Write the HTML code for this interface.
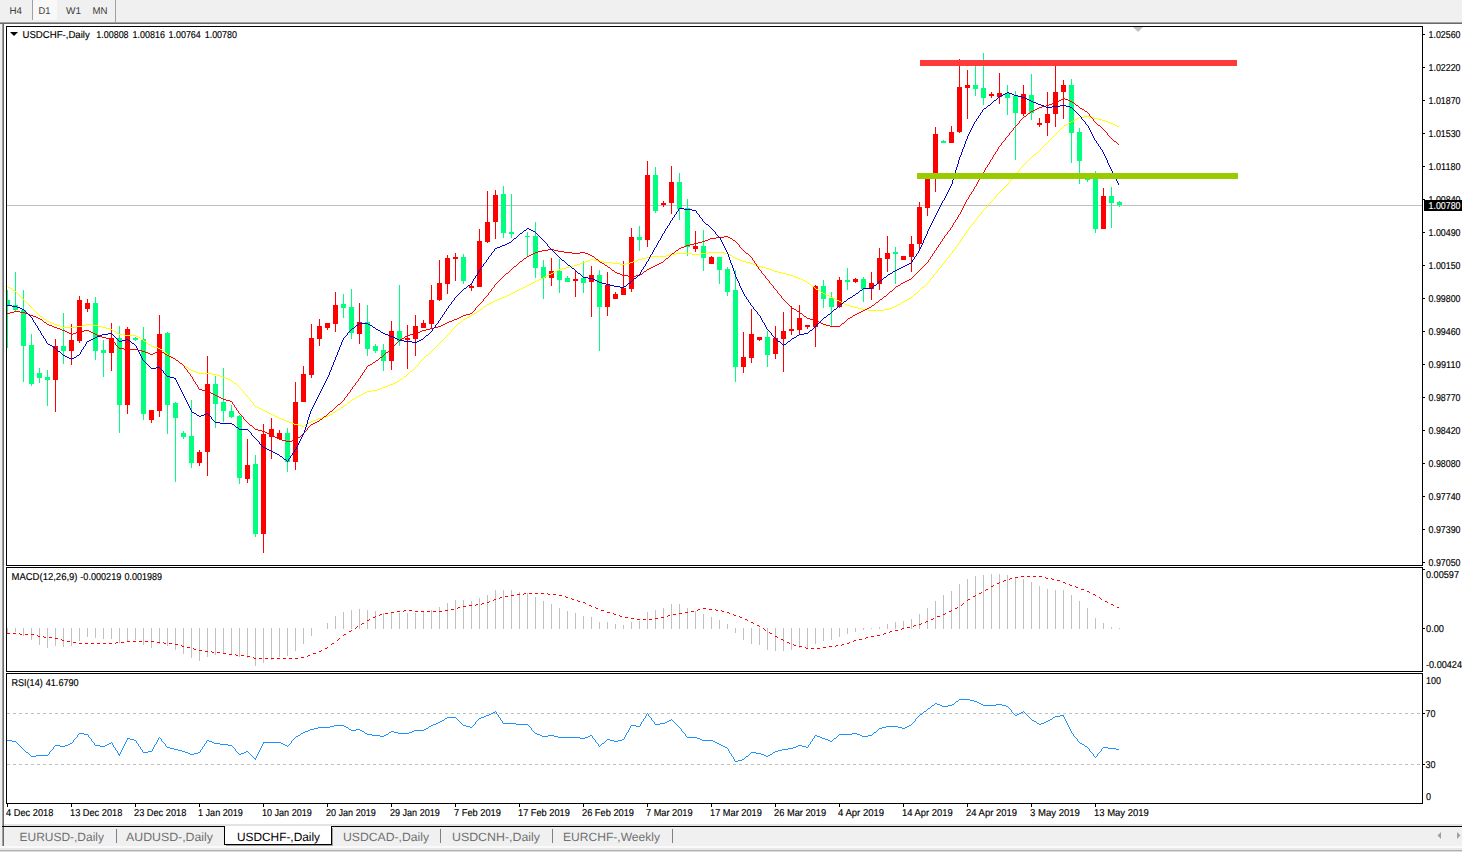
<!DOCTYPE html><html><head><meta charset="utf-8"><title>USDCHF-,Daily</title>
<style>html,body{margin:0;padding:0;background:#f0f0f0;overflow:hidden}svg{display:block}text{font-family:"Liberation Sans",sans-serif;text-rendering:geometricPrecision}</style></head><body>
<svg width="1462" height="852" viewBox="0 0 1462 852">
<rect x="0" y="0" width="1462" height="852" fill="#f0f0f0"/>
<g shape-rendering="crispEdges">
<rect x="0" y="22" width="1462" height="1" fill="#a0a0a0"/>
<rect x="0" y="23" width="1462" height="1" fill="#696969"/>
<rect x="33" y="0" width="24" height="20" fill="#f8f8f8"/>
<rect x="32" y="0" width="1" height="20" fill="#a0a0a0"/>
<rect x="115" y="0" width="1" height="22" fill="#a0a0a0"/>
<rect x="2" y="24" width="1460" height="801" fill="#ffffff"/>
<rect x="2" y="24" width="1" height="822" fill="#a0a0a0"/>
<rect x="3" y="24" width="1" height="822" fill="#696969"/>
<rect x="4" y="824" width="1458" height="2" fill="#e3e3e3"/>
<rect x="2" y="826" width="1460" height="1" fill="#000000"/>
<rect x="4" y="827" width="1458" height="19" fill="#f0f0f0"/>
<rect x="0" y="846" width="1462" height="2" fill="#fafafa"/>
<rect x="0" y="848" width="1462" height="2" fill="#e8e8e8"/>
<rect x="0" y="850" width="1462" height="1" fill="#b0b0b0"/>
<rect x="0" y="851" width="1462" height="1" fill="#dcdcdc"/>
<rect x="224" y="826" width="108" height="19" fill="#000"/>
<rect x="225" y="826" width="106" height="18" fill="#fff"/>
<rect x="332" y="828" width="1" height="18" fill="#a0a0a0"/>
<rect x="226" y="845" width="107" height="1" fill="#a0a0a0"/>
<rect x="116" y="829" width="1" height="14" fill="#808080"/>
<rect x="440" y="829" width="1" height="14" fill="#808080"/>
<rect x="552" y="829" width="1" height="14" fill="#808080"/>
<rect x="672" y="829" width="1" height="14" fill="#808080"/>
<rect x="6" y="26" width="1417" height="1" fill="#000"/>
<rect x="6" y="565" width="1417" height="1" fill="#000"/>
<rect x="6" y="26" width="1" height="540" fill="#000"/>
<rect x="1422" y="26" width="1" height="540" fill="#000"/>
<rect x="6" y="567" width="1417" height="1" fill="#000"/>
<rect x="6" y="671" width="1417" height="1" fill="#000"/>
<rect x="6" y="567" width="1" height="105" fill="#000"/>
<rect x="1422" y="567" width="1" height="105" fill="#000"/>
<rect x="6" y="673" width="1417" height="1" fill="#000"/>
<rect x="6" y="803" width="1417" height="1" fill="#000"/>
<rect x="6" y="673" width="1" height="131" fill="#000"/>
<rect x="1422" y="673" width="1" height="131" fill="#000"/>
<rect x="7" y="205" width="1415" height="1" fill="#c0c0c0"/>
<polygon points="1133,27 1143,27 1138,32" fill="#c0c0c0" shape-rendering="auto"/>
</g>
<g shape-rendering="crispEdges">
<rect x="1423" y="34" width="2" height="1" fill="#000"/>
<rect x="1423" y="67" width="2" height="1" fill="#000"/>
<rect x="1423" y="100" width="2" height="1" fill="#000"/>
<rect x="1423" y="133" width="2" height="1" fill="#000"/>
<rect x="1423" y="166" width="2" height="1" fill="#000"/>
<rect x="1423" y="199" width="2" height="1" fill="#000"/>
<rect x="1423" y="232" width="2" height="1" fill="#000"/>
<rect x="1423" y="265" width="2" height="1" fill="#000"/>
<rect x="1423" y="298" width="2" height="1" fill="#000"/>
<rect x="1423" y="331" width="2" height="1" fill="#000"/>
<rect x="1423" y="364" width="2" height="1" fill="#000"/>
<rect x="1423" y="397" width="2" height="1" fill="#000"/>
<rect x="1423" y="430" width="2" height="1" fill="#000"/>
<rect x="1423" y="463" width="2" height="1" fill="#000"/>
<rect x="1423" y="496" width="2" height="1" fill="#000"/>
<rect x="1423" y="529" width="2" height="1" fill="#000"/>
<rect x="1423" y="562" width="2" height="1" fill="#000"/>
</g>
<text x="1428.5" y="37.9" font-size="10" fill="#000" stroke="#000" stroke-width="0.15" textLength="32" lengthAdjust="spacingAndGlyphs">1.02560</text>
<text x="1428.5" y="70.9" font-size="10" fill="#000" stroke="#000" stroke-width="0.15" textLength="32" lengthAdjust="spacingAndGlyphs">1.02220</text>
<text x="1428.5" y="103.9" font-size="10" fill="#000" stroke="#000" stroke-width="0.15" textLength="32" lengthAdjust="spacingAndGlyphs">1.01870</text>
<text x="1428.5" y="136.9" font-size="10" fill="#000" stroke="#000" stroke-width="0.15" textLength="32" lengthAdjust="spacingAndGlyphs">1.01530</text>
<text x="1428.5" y="169.9" font-size="10" fill="#000" stroke="#000" stroke-width="0.15" textLength="32" lengthAdjust="spacingAndGlyphs">1.01180</text>
<text x="1428.5" y="202.9" font-size="10" fill="#000" stroke="#000" stroke-width="0.15" textLength="32" lengthAdjust="spacingAndGlyphs">1.00840</text>
<text x="1428.5" y="235.9" font-size="10" fill="#000" stroke="#000" stroke-width="0.15" textLength="32" lengthAdjust="spacingAndGlyphs">1.00490</text>
<text x="1428.5" y="268.9" font-size="10" fill="#000" stroke="#000" stroke-width="0.15" textLength="32" lengthAdjust="spacingAndGlyphs">1.00150</text>
<text x="1428.5" y="301.9" font-size="10" fill="#000" stroke="#000" stroke-width="0.15" textLength="32" lengthAdjust="spacingAndGlyphs">0.99800</text>
<text x="1428.5" y="334.9" font-size="10" fill="#000" stroke="#000" stroke-width="0.15" textLength="32" lengthAdjust="spacingAndGlyphs">0.99460</text>
<text x="1428.5" y="367.9" font-size="10" fill="#000" stroke="#000" stroke-width="0.15" textLength="32" lengthAdjust="spacingAndGlyphs">0.99110</text>
<text x="1428.5" y="400.9" font-size="10" fill="#000" stroke="#000" stroke-width="0.15" textLength="32" lengthAdjust="spacingAndGlyphs">0.98770</text>
<text x="1428.5" y="433.9" font-size="10" fill="#000" stroke="#000" stroke-width="0.15" textLength="32" lengthAdjust="spacingAndGlyphs">0.98420</text>
<text x="1428.5" y="466.9" font-size="10" fill="#000" stroke="#000" stroke-width="0.15" textLength="32" lengthAdjust="spacingAndGlyphs">0.98080</text>
<text x="1428.5" y="499.9" font-size="10" fill="#000" stroke="#000" stroke-width="0.15" textLength="32" lengthAdjust="spacingAndGlyphs">0.97740</text>
<text x="1428.5" y="532.9" font-size="10" fill="#000" stroke="#000" stroke-width="0.15" textLength="32" lengthAdjust="spacingAndGlyphs">0.97390</text>
<text x="1428.5" y="565.9" font-size="10" fill="#000" stroke="#000" stroke-width="0.15" textLength="32" lengthAdjust="spacingAndGlyphs">0.97050</text>
<rect x="1424" y="200" width="38" height="11" fill="#000" shape-rendering="crispEdges"/>
<text x="1428.5" y="209.2" font-size="10" fill="#fff" stroke="#fff" stroke-width="0.15" textLength="32" lengthAdjust="spacingAndGlyphs">1.00780</text>
<g shape-rendering="crispEdges">
<rect x="1423" y="569" width="2" height="1" fill="#000"/>
<rect x="1423" y="628" width="2" height="1" fill="#000"/>
<rect x="1423" y="713" width="2" height="1" fill="#000"/>
<rect x="1423" y="764" width="2" height="1" fill="#000"/>
</g>
<text x="1426" y="578" font-size="10" fill="#000" stroke="#000" stroke-width="0.15" textLength="33" lengthAdjust="spacingAndGlyphs">0.00597</text>
<text x="1426" y="631.6" font-size="10" fill="#000" stroke="#000" stroke-width="0.15" textLength="18" lengthAdjust="spacingAndGlyphs">0.00</text>
<text x="1426" y="668" font-size="10" fill="#000" stroke="#000" stroke-width="0.15" textLength="36" lengthAdjust="spacingAndGlyphs">-0.00424</text>
<text x="1426" y="684" font-size="10" fill="#000" stroke="#000" stroke-width="0.15" textLength="15" lengthAdjust="spacingAndGlyphs">100</text>
<text x="1425.5" y="716.6" font-size="10" fill="#000" stroke="#000" stroke-width="0.15" textLength="10" lengthAdjust="spacingAndGlyphs">70</text>
<text x="1425.5" y="767.6" font-size="10" fill="#000" stroke="#000" stroke-width="0.15" textLength="10" lengthAdjust="spacingAndGlyphs">30</text>
<text x="1426" y="800" font-size="10" fill="#000" stroke="#000" stroke-width="0.15" textLength="5" lengthAdjust="spacingAndGlyphs">0</text>
<g shape-rendering="crispEdges">
<rect x="7" y="290" width="1" height="58" fill="#00ff7f"/>
<rect x="7" y="300" width="3" height="5" fill="#00ff7f"/>
<rect x="15" y="272" width="1" height="39" fill="#00ff7f"/>
<rect x="13" y="305" width="5" height="5" fill="#00ff7f"/>
<rect x="23" y="290" width="1" height="92" fill="#00ff7f"/>
<rect x="21" y="310" width="5" height="36" fill="#00ff7f"/>
<rect x="31" y="334" width="1" height="52" fill="#00ff7f"/>
<rect x="29" y="345" width="5" height="39" fill="#00ff7f"/>
<rect x="39" y="368" width="1" height="15" fill="#00ff7f"/>
<rect x="37" y="373" width="5" height="5" fill="#00ff7f"/>
<rect x="47" y="370" width="1" height="36" fill="#00ff7f"/>
<rect x="45" y="377" width="5" height="3" fill="#00ff7f"/>
<rect x="55" y="339" width="1" height="73" fill="#ff0000"/>
<rect x="53" y="346" width="5" height="34" fill="#ff0000"/>
<rect x="63" y="313" width="1" height="51" fill="#00ff7f"/>
<rect x="61" y="346" width="5" height="5" fill="#00ff7f"/>
<rect x="71" y="324" width="1" height="41" fill="#ff0000"/>
<rect x="69" y="340" width="5" height="11" fill="#ff0000"/>
<rect x="79" y="296" width="1" height="47" fill="#ff0000"/>
<rect x="77" y="300" width="5" height="41" fill="#ff0000"/>
<rect x="87" y="299" width="1" height="13" fill="#ff0000"/>
<rect x="85" y="303" width="5" height="6" fill="#ff0000"/>
<rect x="95" y="297" width="1" height="63" fill="#00ff7f"/>
<rect x="93" y="303" width="5" height="48" fill="#00ff7f"/>
<rect x="103" y="340" width="1" height="37" fill="#00ff7f"/>
<rect x="101" y="350" width="5" height="3" fill="#00ff7f"/>
<rect x="111" y="323" width="1" height="48" fill="#ff0000"/>
<rect x="109" y="338" width="5" height="15" fill="#ff0000"/>
<rect x="119" y="326" width="1" height="107" fill="#00ff7f"/>
<rect x="117" y="338" width="5" height="67" fill="#00ff7f"/>
<rect x="127" y="327" width="1" height="87" fill="#ff0000"/>
<rect x="125" y="329" width="5" height="76" fill="#ff0000"/>
<rect x="135" y="337" width="1" height="4" fill="#00ff7f"/>
<rect x="133" y="338" width="5" height="2" fill="#00ff7f"/>
<rect x="143" y="327" width="1" height="93" fill="#00ff7f"/>
<rect x="141" y="339" width="5" height="75" fill="#00ff7f"/>
<rect x="151" y="410" width="1" height="13" fill="#ff0000"/>
<rect x="149" y="410" width="5" height="10" fill="#ff0000"/>
<rect x="159" y="315" width="1" height="102" fill="#ff0000"/>
<rect x="157" y="334" width="5" height="77" fill="#ff0000"/>
<rect x="167" y="332" width="1" height="102" fill="#00ff7f"/>
<rect x="165" y="333" width="5" height="72" fill="#00ff7f"/>
<rect x="175" y="402" width="1" height="80" fill="#00ff7f"/>
<rect x="173" y="403" width="5" height="15" fill="#00ff7f"/>
<rect x="183" y="431" width="1" height="8" fill="#00ff7f"/>
<rect x="181" y="433" width="5" height="4" fill="#00ff7f"/>
<rect x="191" y="400" width="1" height="68" fill="#00ff7f"/>
<rect x="189" y="436" width="5" height="27" fill="#00ff7f"/>
<rect x="199" y="450" width="1" height="16" fill="#ff0000"/>
<rect x="197" y="452" width="5" height="11" fill="#ff0000"/>
<rect x="207" y="356" width="1" height="120" fill="#ff0000"/>
<rect x="205" y="384" width="5" height="68" fill="#ff0000"/>
<rect x="215" y="376" width="1" height="52" fill="#00ff7f"/>
<rect x="213" y="384" width="5" height="20" fill="#00ff7f"/>
<rect x="223" y="368" width="1" height="54" fill="#00ff7f"/>
<rect x="221" y="402" width="5" height="9" fill="#00ff7f"/>
<rect x="231" y="405" width="1" height="13" fill="#00ff7f"/>
<rect x="229" y="411" width="5" height="6" fill="#00ff7f"/>
<rect x="239" y="415" width="1" height="69" fill="#00ff7f"/>
<rect x="237" y="416" width="5" height="62" fill="#00ff7f"/>
<rect x="247" y="439" width="1" height="44" fill="#ff0000"/>
<rect x="245" y="465" width="5" height="14" fill="#ff0000"/>
<rect x="255" y="455" width="1" height="82" fill="#00ff7f"/>
<rect x="253" y="464" width="5" height="70" fill="#00ff7f"/>
<rect x="263" y="424" width="1" height="129" fill="#ff0000"/>
<rect x="261" y="434" width="5" height="100" fill="#ff0000"/>
<rect x="271" y="418" width="1" height="41" fill="#ff0000"/>
<rect x="269" y="429" width="5" height="8" fill="#ff0000"/>
<rect x="279" y="430" width="1" height="10" fill="#ff0000"/>
<rect x="277" y="433" width="5" height="6" fill="#ff0000"/>
<rect x="287" y="428" width="1" height="44" fill="#00ff7f"/>
<rect x="285" y="433" width="5" height="29" fill="#00ff7f"/>
<rect x="295" y="382" width="1" height="88" fill="#ff0000"/>
<rect x="293" y="402" width="5" height="60" fill="#ff0000"/>
<rect x="303" y="366" width="1" height="36" fill="#ff0000"/>
<rect x="301" y="374" width="5" height="28" fill="#ff0000"/>
<rect x="311" y="324" width="1" height="54" fill="#ff0000"/>
<rect x="309" y="338" width="5" height="37" fill="#ff0000"/>
<rect x="319" y="319" width="1" height="27" fill="#ff0000"/>
<rect x="317" y="326" width="5" height="13" fill="#ff0000"/>
<rect x="327" y="323" width="1" height="7" fill="#ff0000"/>
<rect x="325" y="323" width="5" height="5" fill="#ff0000"/>
<rect x="335" y="292" width="1" height="40" fill="#ff0000"/>
<rect x="333" y="305" width="5" height="19" fill="#ff0000"/>
<rect x="343" y="294" width="1" height="24" fill="#00ff7f"/>
<rect x="341" y="304" width="5" height="4" fill="#00ff7f"/>
<rect x="351" y="289" width="1" height="50" fill="#00ff7f"/>
<rect x="349" y="307" width="5" height="26" fill="#00ff7f"/>
<rect x="359" y="303" width="1" height="41" fill="#ff0000"/>
<rect x="357" y="322" width="5" height="12" fill="#ff0000"/>
<rect x="367" y="305" width="1" height="51" fill="#00ff7f"/>
<rect x="365" y="322" width="5" height="27" fill="#00ff7f"/>
<rect x="375" y="344" width="1" height="9" fill="#00ff7f"/>
<rect x="373" y="346" width="5" height="5" fill="#00ff7f"/>
<rect x="383" y="344" width="1" height="27" fill="#00ff7f"/>
<rect x="381" y="350" width="5" height="11" fill="#00ff7f"/>
<rect x="391" y="321" width="1" height="49" fill="#ff0000"/>
<rect x="389" y="331" width="5" height="30" fill="#ff0000"/>
<rect x="399" y="285" width="1" height="61" fill="#00ff7f"/>
<rect x="397" y="331" width="5" height="10" fill="#00ff7f"/>
<rect x="407" y="325" width="1" height="44" fill="#ff0000"/>
<rect x="405" y="338" width="5" height="2" fill="#ff0000"/>
<rect x="415" y="315" width="1" height="41" fill="#ff0000"/>
<rect x="413" y="326" width="5" height="13" fill="#ff0000"/>
<rect x="423" y="320" width="1" height="8" fill="#ff0000"/>
<rect x="421" y="323" width="5" height="5" fill="#ff0000"/>
<rect x="431" y="285" width="1" height="43" fill="#ff0000"/>
<rect x="429" y="300" width="5" height="24" fill="#ff0000"/>
<rect x="439" y="260" width="1" height="41" fill="#ff0000"/>
<rect x="437" y="283" width="5" height="17" fill="#ff0000"/>
<rect x="447" y="255" width="1" height="39" fill="#ff0000"/>
<rect x="445" y="258" width="5" height="26" fill="#ff0000"/>
<rect x="455" y="253" width="1" height="28" fill="#ff0000"/>
<rect x="453" y="257" width="5" height="2" fill="#ff0000"/>
<rect x="463" y="254" width="1" height="30" fill="#00ff7f"/>
<rect x="461" y="257" width="5" height="24" fill="#00ff7f"/>
<rect x="471" y="283" width="1" height="8" fill="#ff0000"/>
<rect x="469" y="286" width="5" height="2" fill="#ff0000"/>
<rect x="479" y="229" width="1" height="58" fill="#ff0000"/>
<rect x="477" y="241" width="5" height="46" fill="#ff0000"/>
<rect x="487" y="191" width="1" height="52" fill="#ff0000"/>
<rect x="485" y="222" width="5" height="20" fill="#ff0000"/>
<rect x="495" y="190" width="1" height="49" fill="#ff0000"/>
<rect x="493" y="195" width="5" height="27" fill="#ff0000"/>
<rect x="503" y="186" width="1" height="52" fill="#00ff7f"/>
<rect x="501" y="194" width="5" height="39" fill="#00ff7f"/>
<rect x="511" y="194" width="1" height="44" fill="#00ff7f"/>
<rect x="509" y="232" width="5" height="2" fill="#00ff7f"/>
<rect x="527" y="232" width="1" height="24" fill="#00ff7f"/>
<rect x="525" y="236" width="5" height="1" fill="#00ff7f"/>
<rect x="535" y="222" width="1" height="56" fill="#00ff7f"/>
<rect x="533" y="236" width="5" height="32" fill="#00ff7f"/>
<rect x="543" y="260" width="1" height="39" fill="#00ff7f"/>
<rect x="541" y="267" width="5" height="11" fill="#00ff7f"/>
<rect x="551" y="258" width="1" height="28" fill="#ff0000"/>
<rect x="549" y="271" width="5" height="7" fill="#ff0000"/>
<rect x="559" y="259" width="1" height="34" fill="#00ff7f"/>
<rect x="557" y="271" width="5" height="9" fill="#00ff7f"/>
<rect x="567" y="276" width="1" height="5" fill="#00ff7f"/>
<rect x="565" y="278" width="5" height="4" fill="#00ff7f"/>
<rect x="575" y="270" width="1" height="27" fill="#ff0000"/>
<rect x="573" y="279" width="5" height="2" fill="#ff0000"/>
<rect x="583" y="261" width="1" height="32" fill="#00ff7f"/>
<rect x="581" y="278" width="5" height="5" fill="#00ff7f"/>
<rect x="591" y="266" width="1" height="51" fill="#ff0000"/>
<rect x="589" y="275" width="5" height="7" fill="#ff0000"/>
<rect x="599" y="270" width="1" height="81" fill="#00ff7f"/>
<rect x="597" y="275" width="5" height="32" fill="#00ff7f"/>
<rect x="607" y="272" width="1" height="44" fill="#ff0000"/>
<rect x="605" y="285" width="5" height="22" fill="#ff0000"/>
<rect x="615" y="292" width="1" height="7" fill="#ff0000"/>
<rect x="613" y="294" width="5" height="5" fill="#ff0000"/>
<rect x="623" y="261" width="1" height="34" fill="#ff0000"/>
<rect x="621" y="288" width="5" height="7" fill="#ff0000"/>
<rect x="631" y="228" width="1" height="64" fill="#ff0000"/>
<rect x="629" y="237" width="5" height="52" fill="#ff0000"/>
<rect x="639" y="226" width="1" height="25" fill="#00ff7f"/>
<rect x="637" y="237" width="5" height="3" fill="#00ff7f"/>
<rect x="647" y="161" width="1" height="86" fill="#ff0000"/>
<rect x="645" y="175" width="5" height="65" fill="#ff0000"/>
<rect x="655" y="167" width="1" height="46" fill="#00ff7f"/>
<rect x="653" y="175" width="5" height="36" fill="#00ff7f"/>
<rect x="663" y="201" width="1" height="6" fill="#ff0000"/>
<rect x="661" y="203" width="5" height="2" fill="#ff0000"/>
<rect x="671" y="166" width="1" height="48" fill="#ff0000"/>
<rect x="669" y="182" width="5" height="21" fill="#ff0000"/>
<rect x="679" y="173" width="1" height="47" fill="#00ff7f"/>
<rect x="677" y="182" width="5" height="27" fill="#00ff7f"/>
<rect x="687" y="199" width="1" height="57" fill="#00ff7f"/>
<rect x="685" y="208" width="5" height="39" fill="#00ff7f"/>
<rect x="695" y="231" width="1" height="21" fill="#ff0000"/>
<rect x="693" y="246" width="5" height="3" fill="#ff0000"/>
<rect x="703" y="230" width="1" height="41" fill="#00ff7f"/>
<rect x="701" y="246" width="5" height="12" fill="#00ff7f"/>
<rect x="711" y="256" width="1" height="8" fill="#ff0000"/>
<rect x="709" y="257" width="5" height="7" fill="#ff0000"/>
<rect x="719" y="257" width="1" height="27" fill="#00ff7f"/>
<rect x="717" y="257" width="5" height="13" fill="#00ff7f"/>
<rect x="727" y="267" width="1" height="29" fill="#00ff7f"/>
<rect x="725" y="269" width="5" height="23" fill="#00ff7f"/>
<rect x="735" y="270" width="1" height="112" fill="#00ff7f"/>
<rect x="733" y="290" width="5" height="77" fill="#00ff7f"/>
<rect x="743" y="332" width="1" height="41" fill="#ff0000"/>
<rect x="741" y="357" width="5" height="10" fill="#ff0000"/>
<rect x="751" y="309" width="1" height="54" fill="#ff0000"/>
<rect x="749" y="334" width="5" height="24" fill="#ff0000"/>
<rect x="759" y="337" width="1" height="4" fill="#ff0000"/>
<rect x="757" y="337" width="5" height="3" fill="#ff0000"/>
<rect x="767" y="331" width="1" height="36" fill="#00ff7f"/>
<rect x="765" y="337" width="5" height="18" fill="#00ff7f"/>
<rect x="775" y="326" width="1" height="33" fill="#ff0000"/>
<rect x="773" y="338" width="5" height="16" fill="#ff0000"/>
<rect x="783" y="312" width="1" height="60" fill="#ff0000"/>
<rect x="781" y="331" width="5" height="8" fill="#ff0000"/>
<rect x="791" y="306" width="1" height="29" fill="#ff0000"/>
<rect x="789" y="329" width="5" height="2" fill="#ff0000"/>
<rect x="799" y="305" width="1" height="29" fill="#ff0000"/>
<rect x="797" y="318" width="5" height="12" fill="#ff0000"/>
<rect x="807" y="325" width="1" height="4" fill="#ff0000"/>
<rect x="805" y="325" width="5" height="2" fill="#ff0000"/>
<rect x="815" y="285" width="1" height="62" fill="#ff0000"/>
<rect x="813" y="286" width="5" height="41" fill="#ff0000"/>
<rect x="823" y="280" width="1" height="28" fill="#00ff7f"/>
<rect x="821" y="286" width="5" height="13" fill="#00ff7f"/>
<rect x="831" y="292" width="1" height="34" fill="#00ff7f"/>
<rect x="829" y="298" width="5" height="9" fill="#00ff7f"/>
<rect x="839" y="277" width="1" height="31" fill="#ff0000"/>
<rect x="837" y="280" width="5" height="27" fill="#ff0000"/>
<rect x="847" y="268" width="1" height="22" fill="#00ff7f"/>
<rect x="845" y="280" width="5" height="2" fill="#00ff7f"/>
<rect x="855" y="278" width="1" height="5" fill="#ff0000"/>
<rect x="853" y="279" width="5" height="3" fill="#ff0000"/>
<rect x="863" y="277" width="1" height="25" fill="#00ff7f"/>
<rect x="861" y="279" width="5" height="10" fill="#00ff7f"/>
<rect x="871" y="272" width="1" height="28" fill="#ff0000"/>
<rect x="869" y="283" width="5" height="6" fill="#ff0000"/>
<rect x="879" y="248" width="1" height="42" fill="#ff0000"/>
<rect x="877" y="258" width="5" height="26" fill="#ff0000"/>
<rect x="887" y="236" width="1" height="36" fill="#ff0000"/>
<rect x="885" y="253" width="5" height="6" fill="#ff0000"/>
<rect x="895" y="247" width="1" height="37" fill="#00ff7f"/>
<rect x="893" y="252" width="5" height="2" fill="#00ff7f"/>
<rect x="903" y="256" width="1" height="4" fill="#ff0000"/>
<rect x="901" y="256" width="5" height="4" fill="#ff0000"/>
<rect x="911" y="236" width="1" height="36" fill="#ff0000"/>
<rect x="909" y="244" width="5" height="13" fill="#ff0000"/>
<rect x="919" y="202" width="1" height="49" fill="#ff0000"/>
<rect x="917" y="207" width="5" height="37" fill="#ff0000"/>
<rect x="927" y="179" width="1" height="37" fill="#ff0000"/>
<rect x="925" y="179" width="5" height="29" fill="#ff0000"/>
<rect x="935" y="127" width="1" height="65" fill="#ff0000"/>
<rect x="933" y="134" width="5" height="39" fill="#ff0000"/>
<rect x="943" y="140" width="1" height="3" fill="#00ff7f"/>
<rect x="941" y="141" width="5" height="2" fill="#00ff7f"/>
<rect x="951" y="126" width="1" height="17" fill="#ff0000"/>
<rect x="949" y="132" width="5" height="11" fill="#ff0000"/>
<rect x="959" y="59" width="1" height="74" fill="#ff0000"/>
<rect x="957" y="87" width="5" height="45" fill="#ff0000"/>
<rect x="967" y="70" width="1" height="49" fill="#ff0000"/>
<rect x="965" y="85" width="5" height="3" fill="#ff0000"/>
<rect x="975" y="66" width="1" height="30" fill="#00ff7f"/>
<rect x="973" y="85" width="5" height="4" fill="#00ff7f"/>
<rect x="983" y="53" width="1" height="52" fill="#00ff7f"/>
<rect x="981" y="88" width="5" height="10" fill="#00ff7f"/>
<rect x="991" y="92" width="1" height="6" fill="#ff0000"/>
<rect x="989" y="94" width="5" height="2" fill="#ff0000"/>
<rect x="999" y="73" width="1" height="31" fill="#ff0000"/>
<rect x="997" y="93" width="5" height="4" fill="#ff0000"/>
<rect x="1007" y="85" width="1" height="30" fill="#00ff7f"/>
<rect x="1005" y="93" width="5" height="5" fill="#00ff7f"/>
<rect x="1015" y="91" width="1" height="69" fill="#00ff7f"/>
<rect x="1013" y="96" width="5" height="17" fill="#00ff7f"/>
<rect x="1023" y="85" width="1" height="31" fill="#ff0000"/>
<rect x="1021" y="94" width="5" height="20" fill="#ff0000"/>
<rect x="1031" y="74" width="1" height="46" fill="#00ff7f"/>
<rect x="1029" y="95" width="5" height="18" fill="#00ff7f"/>
<rect x="1039" y="118" width="1" height="9" fill="#ff0000"/>
<rect x="1037" y="123" width="5" height="2" fill="#ff0000"/>
<rect x="1047" y="92" width="1" height="44" fill="#ff0000"/>
<rect x="1045" y="114" width="5" height="9" fill="#ff0000"/>
<rect x="1055" y="66" width="1" height="61" fill="#ff0000"/>
<rect x="1053" y="92" width="5" height="22" fill="#ff0000"/>
<rect x="1063" y="80" width="1" height="39" fill="#ff0000"/>
<rect x="1061" y="85" width="5" height="7" fill="#ff0000"/>
<rect x="1071" y="79" width="1" height="84" fill="#00ff7f"/>
<rect x="1069" y="85" width="5" height="48" fill="#00ff7f"/>
<rect x="1079" y="128" width="1" height="56" fill="#00ff7f"/>
<rect x="1077" y="132" width="5" height="29" fill="#00ff7f"/>
<rect x="1087" y="178" width="1" height="4" fill="#00ff7f"/>
<rect x="1085" y="179" width="5" height="1" fill="#00ff7f"/>
<rect x="1095" y="171" width="1" height="62" fill="#00ff7f"/>
<rect x="1093" y="173" width="5" height="56" fill="#00ff7f"/>
<rect x="1103" y="188" width="1" height="41" fill="#ff0000"/>
<rect x="1101" y="196" width="5" height="33" fill="#ff0000"/>
<rect x="1111" y="187" width="1" height="41" fill="#00ff7f"/>
<rect x="1109" y="196" width="5" height="7" fill="#00ff7f"/>
<rect x="1119" y="201" width="1" height="6" fill="#00ff7f"/>
<rect x="1117" y="202" width="5" height="3" fill="#00ff7f"/>
</g>
<path d="M1084 116h6v1h-6zM1079 117h5v1h-5zM1090 117h4v1h-4zM1077 118h2v1h-2zM1094 118h4v1h-4zM1075 119h2v1h-2zM1098 119h4v1h-4zM1073 120h2v1h-2zM1102 120h3v1h-3zM1071 121h2v1h-2zM1105 121h3v1h-3zM1069 122h2v1h-2zM1108 122h2v1h-2zM1068 123h1v1h-1zM1110 123h3v1h-3zM1066 124h2v1h-2zM1113 124h2v1h-2zM1064 125h2v1h-2zM1115 125h2v1h-2zM1063 126h1v1h-1zM1117 126h2v1h-2zM1062 127h1v1h-1zM1061 128h1v1h-1zM1060 129h1v1h-1zM1059 130h1v1h-1zM1058 131h1v1h-1zM1057 132h1v1h-1zM1056 133h1v1h-1zM1055 134h1v1h-1zM1054 135h1v1h-1zM1053 136h1v1h-1zM1052 137h1v1h-1zM1051 138h1v1h-1zM1050 139h1v1h-1zM1049 140h1v1h-1zM1048 141h1v1h-1zM1047 142h1v1h-1zM1046 143h1v1h-1zM1045 144h1v1h-1zM1044 145h1v1h-1zM1043 146h1v1h-1zM1042 147h1v1h-1zM1041 148h1v1h-1zM1040 149h1v1h-1zM1039 150h1v1h-1zM1038 151h1v1h-1zM1037 152h1v1h-1zM1036 153h1v1h-1zM1034 154h2v1h-2zM1033 155h1v1h-1zM1032 156h1v1h-1zM1031 157h1v1h-1zM1030 158h1v1h-1zM1029 159h1v1h-1zM1028 160h1v1h-1zM1027 161h1v1h-1zM1026 162h1v1h-1zM1025 163h1v1h-1zM1024 164h1v1h-1zM1023 165h1v1h-1zM1022 166h1v1h-1zM1021 167h1v1h-1zM1020 168h1v1h-1zM1019 169h1v1h-1zM1019 170h1v1h-1zM1018 171h1v1h-1zM1017 172h1v1h-1zM1016 173h1v1h-1zM1015 174h1v1h-1zM1014 175h1v1h-1zM1013 176h1v1h-1zM1013 177h1v1h-1zM1012 178h1v1h-1zM1011 179h1v1h-1zM1010 180h1v1h-1zM1009 181h1v1h-1zM1009 182h1v1h-1zM1008 183h1v1h-1zM1007 184h1v1h-1zM1006 185h1v1h-1zM1005 186h1v1h-1zM1004 187h1v1h-1zM1003 188h1v1h-1zM1002 189h1v1h-1zM1001 190h1v1h-1zM1000 191h1v1h-1zM999 192h1v1h-1zM998 193h1v1h-1zM997 194h1v1h-1zM996 195h1v1h-1zM995 196h1v1h-1zM995 197h1v1h-1zM994 198h1v1h-1zM993 199h1v1h-1zM992 200h1v1h-1zM991 201h1v1h-1zM990 202h1v1h-1zM989 203h1v1h-1zM988 204h1v1h-1zM987 205h1v1h-1zM987 206h1v1h-1zM986 207h1v1h-1zM985 208h1v1h-1zM984 209h1v1h-1zM983 210h1v1h-1zM982 211h1v1h-1zM981 212h1v1h-1zM981 213h1v1h-1zM980 214h1v1h-1zM979 215h1v1h-1zM978 216h1v1h-1zM977 217h1v1h-1zM977 218h1v1h-1zM976 219h1v1h-1zM975 220h1v1h-1zM974 221h1v1h-1zM973 222h1v1h-1zM973 223h1v1h-1zM972 224h1v1h-1zM971 225h1v1h-1zM970 226h1v1h-1zM969 227h1v1h-1zM969 228h1v1h-1zM968 229h1v1h-1zM967 230h1v1h-1zM966 231h1v1h-1zM966 232h1v1h-1zM965 233h1v1h-1zM964 234h1v1h-1zM964 235h1v1h-1zM963 236h1v1h-1zM962 237h1v1h-1zM962 238h1v1h-1zM961 239h1v1h-1zM960 240h1v1h-1zM960 241h1v1h-1zM959 242h1v1h-1zM958 243h1v1h-1zM958 244h1v1h-1zM957 245h1v1h-1zM956 246h1v1h-1zM955 247h1v1h-1zM955 248h1v1h-1zM954 249h1v1h-1zM953 250h1v1h-1zM952 251h1v1h-1zM708 252h16v1h-16zM952 252h1v1h-1zM676 253h16v1h-16zM700 253h8v1h-8zM724 253h4v1h-4zM951 253h1v1h-1zM670 254h6v1h-6zM692 254h8v1h-8zM728 254h2v1h-2zM950 254h1v1h-1zM666 255h4v1h-4zM730 255h2v1h-2zM949 255h1v1h-1zM652 256h14v1h-14zM732 256h1v1h-1zM949 256h1v1h-1zM646 257h6v1h-6zM733 257h2v1h-2zM948 257h1v1h-1zM642 258h4v1h-4zM735 258h2v1h-2zM947 258h1v1h-1zM590 259h4v1h-4zM638 259h4v1h-4zM737 259h3v1h-3zM946 259h1v1h-1zM588 260h2v1h-2zM594 260h4v1h-4zM636 260h2v1h-2zM740 260h2v1h-2zM945 260h1v1h-1zM585 261h3v1h-3zM598 261h6v1h-6zM633 261h3v1h-3zM742 261h4v1h-4zM945 261h1v1h-1zM582 262h3v1h-3zM604 262h8v1h-8zM630 262h3v1h-3zM746 262h4v1h-4zM944 262h1v1h-1zM580 263h2v1h-2zM612 263h8v1h-8zM626 263h4v1h-4zM750 263h3v1h-3zM943 263h1v1h-1zM577 264h3v1h-3zM620 264h6v1h-6zM753 264h3v1h-3zM942 264h1v1h-1zM574 265h3v1h-3zM756 265h2v1h-2zM941 265h1v1h-1zM570 266h4v1h-4zM758 266h4v1h-4zM941 266h1v1h-1zM566 267h4v1h-4zM762 267h4v1h-4zM940 267h1v1h-1zM562 268h4v1h-4zM766 268h3v1h-3zM939 268h1v1h-1zM559 269h3v1h-3zM769 269h3v1h-3zM938 269h1v1h-1zM557 270h2v1h-2zM772 270h2v1h-2zM937 270h1v1h-1zM555 271h2v1h-2zM774 271h4v1h-4zM937 271h1v1h-1zM553 272h2v1h-2zM778 272h4v1h-4zM936 272h1v1h-1zM551 273h2v1h-2zM782 273h4v1h-4zM935 273h1v1h-1zM549 274h2v1h-2zM786 274h4v1h-4zM934 274h1v1h-1zM547 275h2v1h-2zM790 275h3v1h-3zM933 275h1v1h-1zM545 276h2v1h-2zM793 276h3v1h-3zM933 276h1v1h-1zM543 277h2v1h-2zM796 277h2v1h-2zM932 277h1v1h-1zM541 278h2v1h-2zM798 278h3v1h-3zM931 278h1v1h-1zM539 279h2v1h-2zM801 279h2v1h-2zM930 279h1v1h-1zM537 280h2v1h-2zM803 280h2v1h-2zM929 280h1v1h-1zM535 281h2v1h-2zM805 281h2v1h-2zM929 281h1v1h-1zM533 282h2v1h-2zM807 282h1v1h-1zM928 282h1v1h-1zM531 283h2v1h-2zM808 283h2v1h-2zM927 283h1v1h-1zM529 284h2v1h-2zM810 284h1v1h-1zM926 284h1v1h-1zM527 285h2v1h-2zM811 285h1v1h-1zM925 285h1v1h-1zM7 286h1v1h-1zM525 286h2v1h-2zM812 286h2v1h-2zM924 286h1v1h-1zM8 287h2v1h-2zM523 287h2v1h-2zM814 287h1v1h-1zM922 287h2v1h-2zM10 288h2v1h-2zM521 288h2v1h-2zM815 288h1v1h-1zM921 288h1v1h-1zM12 289h1v1h-1zM519 289h2v1h-2zM816 289h2v1h-2zM920 289h1v1h-1zM13 290h2v1h-2zM517 290h2v1h-2zM818 290h2v1h-2zM919 290h1v1h-1zM15 291h1v1h-1zM515 291h2v1h-2zM820 291h1v1h-1zM918 291h1v1h-1zM16 292h1v1h-1zM513 292h2v1h-2zM821 292h2v1h-2zM917 292h1v1h-1zM17 293h1v1h-1zM511 293h2v1h-2zM823 293h2v1h-2zM916 293h1v1h-1zM18 294h1v1h-1zM509 294h2v1h-2zM825 294h2v1h-2zM914 294h2v1h-2zM19 295h1v1h-1zM507 295h2v1h-2zM827 295h2v1h-2zM913 295h1v1h-1zM20 296h1v1h-1zM505 296h2v1h-2zM829 296h2v1h-2zM912 296h1v1h-1zM21 297h1v1h-1zM502 297h3v1h-3zM831 297h2v1h-2zM911 297h1v1h-1zM22 298h1v1h-1zM500 298h2v1h-2zM833 298h2v1h-2zM909 298h2v1h-2zM23 299h1v1h-1zM497 299h3v1h-3zM835 299h2v1h-2zM907 299h2v1h-2zM24 300h1v1h-1zM495 300h2v1h-2zM837 300h2v1h-2zM905 300h2v1h-2zM25 301h1v1h-1zM493 301h2v1h-2zM839 301h2v1h-2zM903 301h2v1h-2zM26 302h1v1h-1zM491 302h2v1h-2zM841 302h2v1h-2zM901 302h2v1h-2zM27 303h1v1h-1zM489 303h2v1h-2zM843 303h2v1h-2zM900 303h1v1h-1zM28 304h1v1h-1zM487 304h2v1h-2zM845 304h2v1h-2zM898 304h2v1h-2zM29 305h1v1h-1zM486 305h1v1h-1zM847 305h3v1h-3zM896 305h2v1h-2zM30 306h1v1h-1zM484 306h2v1h-2zM850 306h4v1h-4zM894 306h2v1h-2zM31 307h1v1h-1zM483 307h1v1h-1zM854 307h4v1h-4zM892 307h2v1h-2zM32 308h1v1h-1zM482 308h1v1h-1zM858 308h4v1h-4zM889 308h3v1h-3zM33 309h1v1h-1zM480 309h2v1h-2zM862 309h6v1h-6zM884 309h5v1h-5zM34 310h1v1h-1zM479 310h1v1h-1zM868 310h16v1h-16zM35 311h1v1h-1zM477 311h2v1h-2zM36 312h1v1h-1zM476 312h1v1h-1zM37 313h1v1h-1zM474 313h2v1h-2zM38 314h1v1h-1zM472 314h2v1h-2zM39 315h1v1h-1zM471 315h1v1h-1zM40 316h2v1h-2zM469 316h2v1h-2zM42 317h1v1h-1zM467 317h2v1h-2zM43 318h1v1h-1zM465 318h2v1h-2zM44 319h2v1h-2zM463 319h2v1h-2zM46 320h1v1h-1zM462 320h1v1h-1zM47 321h2v1h-2zM461 321h1v1h-1zM49 322h3v1h-3zM460 322h1v1h-1zM52 323h2v1h-2zM458 323h2v1h-2zM54 324h3v1h-3zM86 324h6v1h-6zM457 324h1v1h-1zM57 325h3v1h-3zM82 325h4v1h-4zM92 325h6v1h-6zM456 325h1v1h-1zM60 326h2v1h-2zM76 326h6v1h-6zM98 326h4v1h-4zM455 326h1v1h-1zM62 327h14v1h-14zM102 327h4v1h-4zM454 327h1v1h-1zM106 328h4v1h-4zM453 328h1v1h-1zM110 329h2v1h-2zM452 329h1v1h-1zM112 330h2v1h-2zM451 330h1v1h-1zM114 331h2v1h-2zM451 331h1v1h-1zM116 332h1v1h-1zM450 332h1v1h-1zM117 333h2v1h-2zM449 333h1v1h-1zM119 334h5v1h-5zM448 334h1v1h-1zM124 335h12v1h-12zM447 335h1v1h-1zM136 336h2v1h-2zM446 336h1v1h-1zM138 337h2v1h-2zM445 337h1v1h-1zM140 338h1v1h-1zM444 338h1v1h-1zM141 339h2v1h-2zM443 339h1v1h-1zM143 340h1v1h-1zM442 340h1v1h-1zM144 341h2v1h-2zM441 341h1v1h-1zM146 342h1v1h-1zM440 342h1v1h-1zM147 343h1v1h-1zM439 343h1v1h-1zM148 344h2v1h-2zM438 344h1v1h-1zM150 345h1v1h-1zM437 345h1v1h-1zM151 346h3v1h-3zM436 346h1v1h-1zM154 347h4v1h-4zM435 347h1v1h-1zM158 348h2v1h-2zM434 348h1v1h-1zM160 349h2v1h-2zM433 349h1v1h-1zM162 350h1v1h-1zM432 350h1v1h-1zM163 351h1v1h-1zM431 351h1v1h-1zM164 352h2v1h-2zM430 352h1v1h-1zM166 353h1v1h-1zM429 353h1v1h-1zM167 354h1v1h-1zM428 354h1v1h-1zM168 355h2v1h-2zM426 355h2v1h-2zM170 356h2v1h-2zM425 356h1v1h-1zM172 357h1v1h-1zM424 357h1v1h-1zM173 358h2v1h-2zM423 358h1v1h-1zM175 359h1v1h-1zM422 359h1v1h-1zM176 360h2v1h-2zM421 360h1v1h-1zM178 361h1v1h-1zM420 361h1v1h-1zM179 362h1v1h-1zM419 362h1v1h-1zM180 363h2v1h-2zM419 363h1v1h-1zM182 364h1v1h-1zM418 364h1v1h-1zM183 365h1v1h-1zM417 365h1v1h-1zM184 366h2v1h-2zM416 366h1v1h-1zM186 367h2v1h-2zM415 367h1v1h-1zM188 368h1v1h-1zM414 368h1v1h-1zM189 369h2v1h-2zM413 369h1v1h-1zM191 370h2v1h-2zM412 370h1v1h-1zM193 371h3v1h-3zM410 371h2v1h-2zM196 372h2v1h-2zM409 372h1v1h-1zM198 373h14v1h-14zM408 373h1v1h-1zM212 374h5v1h-5zM407 374h1v1h-1zM217 375h3v1h-3zM406 375h1v1h-1zM220 376h2v1h-2zM404 376h2v1h-2zM222 377h3v1h-3zM403 377h1v1h-1zM225 378h3v1h-3zM402 378h1v1h-1zM228 379h2v1h-2zM400 379h2v1h-2zM230 380h2v1h-2zM399 380h1v1h-1zM232 381h1v1h-1zM397 381h2v1h-2zM233 382h1v1h-1zM395 382h2v1h-2zM234 383h2v1h-2zM393 383h2v1h-2zM236 384h1v1h-1zM390 384h3v1h-3zM237 385h1v1h-1zM388 385h2v1h-2zM238 386h1v1h-1zM385 386h3v1h-3zM239 387h1v1h-1zM382 387h3v1h-3zM240 388h1v1h-1zM380 388h2v1h-2zM241 389h1v1h-1zM377 389h3v1h-3zM242 390h1v1h-1zM372 390h5v1h-5zM243 391h1v1h-1zM367 391h5v1h-5zM243 392h1v1h-1zM365 392h2v1h-2zM244 393h1v1h-1zM363 393h2v1h-2zM245 394h1v1h-1zM361 394h2v1h-2zM246 395h1v1h-1zM359 395h2v1h-2zM247 396h1v1h-1zM357 396h2v1h-2zM248 397h1v1h-1zM356 397h1v1h-1zM249 398h1v1h-1zM354 398h2v1h-2zM249 399h1v1h-1zM352 399h2v1h-2zM250 400h1v1h-1zM351 400h1v1h-1zM251 401h1v1h-1zM350 401h1v1h-1zM252 402h1v1h-1zM348 402h2v1h-2zM253 403h1v1h-1zM347 403h1v1h-1zM253 404h1v1h-1zM346 404h1v1h-1zM254 405h1v1h-1zM344 405h2v1h-2zM255 406h2v1h-2zM343 406h1v1h-1zM257 407h2v1h-2zM341 407h2v1h-2zM259 408h2v1h-2zM340 408h1v1h-1zM261 409h2v1h-2zM338 409h2v1h-2zM263 410h2v1h-2zM336 410h2v1h-2zM265 411h2v1h-2zM335 411h1v1h-1zM267 412h2v1h-2zM333 412h2v1h-2zM269 413h2v1h-2zM332 413h1v1h-1zM271 414h2v1h-2zM330 414h2v1h-2zM273 415h2v1h-2zM328 415h2v1h-2zM275 416h2v1h-2zM326 416h2v1h-2zM277 417h2v1h-2zM322 417h4v1h-4zM279 418h2v1h-2zM318 418h4v1h-4zM281 419h3v1h-3zM316 419h2v1h-2zM284 420h2v1h-2zM313 420h3v1h-3zM286 421h3v1h-3zM311 421h2v1h-2zM289 422h3v1h-3zM309 422h2v1h-2zM292 423h2v1h-2zM308 423h1v1h-1zM294 424h4v1h-4zM306 424h2v1h-2zM298 425h4v1h-4zM304 425h2v1h-2zM302 426h2v1h-2z" fill="#ffff00" shape-rendering="crispEdges"/>
<path d="M1063 98h2v1h-2zM1061 99h2v1h-2zM1065 99h3v1h-3zM1059 100h2v1h-2zM1068 100h2v1h-2zM1057 101h2v1h-2zM1070 101h2v1h-2zM1054 102h3v1h-3zM1072 102h2v1h-2zM1052 103h2v1h-2zM1074 103h1v1h-1zM1049 104h3v1h-3zM1075 104h1v1h-1zM1046 105h3v1h-3zM1076 105h2v1h-2zM1042 106h4v1h-4zM1078 106h1v1h-1zM1039 107h3v1h-3zM1079 107h1v1h-1zM1037 108h2v1h-2zM1080 108h2v1h-2zM1035 109h2v1h-2zM1082 109h2v1h-2zM1033 110h2v1h-2zM1084 110h1v1h-1zM1031 111h2v1h-2zM1085 111h2v1h-2zM1030 112h1v1h-1zM1087 112h1v1h-1zM1028 113h2v1h-2zM1088 113h1v1h-1zM1027 114h1v1h-1zM1089 114h1v1h-1zM1026 115h1v1h-1zM1089 115h1v1h-1zM1024 116h2v1h-2zM1090 116h1v1h-1zM1023 117h1v1h-1zM1091 117h1v1h-1zM1022 118h1v1h-1zM1092 118h1v1h-1zM1021 119h1v1h-1zM1093 119h1v1h-1zM1020 120h1v1h-1zM1093 120h1v1h-1zM1019 121h1v1h-1zM1094 121h1v1h-1zM1019 122h1v1h-1zM1095 122h1v1h-1zM1018 123h1v1h-1zM1096 123h1v1h-1zM1017 124h1v1h-1zM1097 124h1v1h-1zM1016 125h1v1h-1zM1098 125h2v1h-2zM1015 126h1v1h-1zM1100 126h1v1h-1zM1014 127h1v1h-1zM1101 127h1v1h-1zM1013 128h1v1h-1zM1102 128h1v1h-1zM1013 129h1v1h-1zM1103 129h1v1h-1zM1012 130h1v1h-1zM1104 130h1v1h-1zM1011 131h1v1h-1zM1105 131h1v1h-1zM1010 132h1v1h-1zM1106 132h1v1h-1zM1009 133h1v1h-1zM1107 133h1v1h-1zM1009 134h1v1h-1zM1107 134h1v1h-1zM1008 135h1v1h-1zM1108 135h1v1h-1zM1007 136h1v1h-1zM1109 136h1v1h-1zM1006 137h1v1h-1zM1110 137h1v1h-1zM1005 138h1v1h-1zM1111 138h1v1h-1zM1005 139h1v1h-1zM1112 139h1v1h-1zM1004 140h1v1h-1zM1113 140h1v1h-1zM1003 141h1v1h-1zM1114 141h2v1h-2zM1002 142h1v1h-1zM1116 142h1v1h-1zM1001 143h1v1h-1zM1117 143h1v1h-1zM1001 144h1v1h-1zM1118 144h1v1h-1zM1000 145h1v1h-1zM999 146h1v1h-1zM998 147h1v1h-1zM998 148h1v1h-1zM997 149h1v1h-1zM997 150h1v1h-1zM996 151h1v1h-1zM995 152h1v1h-1zM995 153h1v1h-1zM994 154h1v1h-1zM993 155h1v1h-1zM993 156h1v1h-1zM992 157h1v1h-1zM992 158h1v1h-1zM991 159h1v1h-1zM990 160h1v1h-1zM990 161h1v1h-1zM989 162h1v1h-1zM989 163h1v1h-1zM988 164h1v1h-1zM987 165h1v1h-1zM987 166h1v1h-1zM986 167h1v1h-1zM985 168h1v1h-1zM985 169h1v1h-1zM984 170h1v1h-1zM984 171h1v1h-1zM983 172h1v1h-1zM982 173h1v1h-1zM982 174h1v1h-1zM981 175h1v1h-1zM981 176h1v1h-1zM980 177h1v1h-1zM980 178h1v1h-1zM979 179h1v1h-1zM978 180h1v1h-1zM978 181h1v1h-1zM977 182h1v1h-1zM977 183h1v1h-1zM976 184h1v1h-1zM976 185h1v1h-1zM975 186h1v1h-1zM974 187h1v1h-1zM974 188h1v1h-1zM973 189h1v1h-1zM973 190h1v1h-1zM972 191h1v1h-1zM971 192h1v1h-1zM971 193h1v1h-1zM970 194h1v1h-1zM969 195h1v1h-1zM969 196h1v1h-1zM968 197h1v1h-1zM968 198h1v1h-1zM967 199h1v1h-1zM966 200h1v1h-1zM966 201h1v1h-1zM965 202h1v1h-1zM965 203h1v1h-1zM964 204h1v1h-1zM964 205h1v1h-1zM963 206h1v1h-1zM963 207h1v1h-1zM962 208h1v1h-1zM962 209h1v1h-1zM961 210h1v1h-1zM961 211h1v1h-1zM960 212h1v1h-1zM960 213h1v1h-1zM959 214h1v1h-1zM958 215h1v1h-1zM958 216h1v1h-1zM957 217h1v1h-1zM957 218h1v1h-1zM956 219h1v1h-1zM955 220h1v1h-1zM955 221h1v1h-1zM954 222h1v1h-1zM953 223h1v1h-1zM953 224h1v1h-1zM952 225h1v1h-1zM952 226h1v1h-1zM951 227h1v1h-1zM950 228h1v1h-1zM950 229h1v1h-1zM949 230h1v1h-1zM948 231h1v1h-1zM947 232h1v1h-1zM947 233h1v1h-1zM946 234h1v1h-1zM945 235h1v1h-1zM724 236h4v1h-4zM944 236h1v1h-1zM716 237h8v1h-8zM728 237h2v1h-2zM944 237h1v1h-1zM710 238h6v1h-6zM730 238h2v1h-2zM943 238h1v1h-1zM708 239h2v1h-2zM732 239h1v1h-1zM942 239h1v1h-1zM705 240h3v1h-3zM733 240h2v1h-2zM942 240h1v1h-1zM702 241h3v1h-3zM735 241h1v1h-1zM941 241h1v1h-1zM698 242h4v1h-4zM736 242h1v1h-1zM940 242h1v1h-1zM694 243h4v1h-4zM737 243h1v1h-1zM940 243h1v1h-1zM690 244h4v1h-4zM738 244h1v1h-1zM939 244h1v1h-1zM686 245h4v1h-4zM739 245h1v1h-1zM938 245h1v1h-1zM684 246h2v1h-2zM739 246h1v1h-1zM938 246h1v1h-1zM681 247h3v1h-3zM740 247h1v1h-1zM937 247h1v1h-1zM679 248h2v1h-2zM741 248h1v1h-1zM936 248h1v1h-1zM548 249h6v1h-6zM678 249h1v1h-1zM742 249h1v1h-1zM936 249h1v1h-1zM542 250h6v1h-6zM554 250h4v1h-4zM676 250h2v1h-2zM743 250h1v1h-1zM935 250h1v1h-1zM538 251h4v1h-4zM558 251h6v1h-6zM675 251h1v1h-1zM744 251h1v1h-1zM934 251h1v1h-1zM535 252h3v1h-3zM564 252h8v1h-8zM580 252h5v1h-5zM674 252h1v1h-1zM745 252h1v1h-1zM934 252h1v1h-1zM533 253h2v1h-2zM572 253h8v1h-8zM585 253h3v1h-3zM672 253h2v1h-2zM746 253h2v1h-2zM933 253h1v1h-1zM531 254h2v1h-2zM588 254h2v1h-2zM671 254h1v1h-1zM748 254h1v1h-1zM932 254h1v1h-1zM529 255h2v1h-2zM590 255h2v1h-2zM670 255h1v1h-1zM749 255h1v1h-1zM932 255h1v1h-1zM527 256h2v1h-2zM592 256h2v1h-2zM669 256h1v1h-1zM750 256h1v1h-1zM931 256h1v1h-1zM526 257h1v1h-1zM594 257h1v1h-1zM668 257h1v1h-1zM751 257h1v1h-1zM930 257h1v1h-1zM524 258h2v1h-2zM595 258h1v1h-1zM666 258h2v1h-2zM752 258h1v1h-1zM930 258h1v1h-1zM523 259h1v1h-1zM596 259h2v1h-2zM665 259h1v1h-1zM752 259h1v1h-1zM929 259h1v1h-1zM522 260h1v1h-1zM598 260h1v1h-1zM664 260h1v1h-1zM753 260h1v1h-1zM928 260h1v1h-1zM520 261h2v1h-2zM599 261h1v1h-1zM663 261h1v1h-1zM754 261h1v1h-1zM928 261h1v1h-1zM519 262h1v1h-1zM600 262h2v1h-2zM661 262h2v1h-2zM754 262h1v1h-1zM927 262h1v1h-1zM518 263h1v1h-1zM602 263h2v1h-2zM659 263h2v1h-2zM755 263h1v1h-1zM926 263h1v1h-1zM517 264h1v1h-1zM604 264h1v1h-1zM657 264h2v1h-2zM756 264h1v1h-1zM925 264h1v1h-1zM516 265h1v1h-1zM605 265h2v1h-2zM655 265h2v1h-2zM756 265h1v1h-1zM924 265h1v1h-1zM514 266h2v1h-2zM607 266h1v1h-1zM653 266h2v1h-2zM757 266h1v1h-1zM923 266h1v1h-1zM513 267h1v1h-1zM608 267h2v1h-2zM651 267h2v1h-2zM758 267h1v1h-1zM922 267h1v1h-1zM512 268h1v1h-1zM610 268h1v1h-1zM649 268h2v1h-2zM758 268h1v1h-1zM921 268h1v1h-1zM511 269h1v1h-1zM611 269h1v1h-1zM647 269h2v1h-2zM759 269h1v1h-1zM920 269h1v1h-1zM510 270h1v1h-1zM612 270h2v1h-2zM646 270h1v1h-1zM760 270h1v1h-1zM919 270h1v1h-1zM509 271h1v1h-1zM614 271h1v1h-1zM644 271h2v1h-2zM761 271h1v1h-1zM918 271h1v1h-1zM508 272h1v1h-1zM615 272h2v1h-2zM643 272h1v1h-1zM761 272h1v1h-1zM917 272h1v1h-1zM506 273h2v1h-2zM617 273h3v1h-3zM642 273h1v1h-1zM762 273h1v1h-1zM916 273h1v1h-1zM505 274h1v1h-1zM620 274h2v1h-2zM640 274h2v1h-2zM763 274h1v1h-1zM915 274h1v1h-1zM504 275h1v1h-1zM622 275h6v1h-6zM636 275h4v1h-4zM764 275h1v1h-1zM914 275h1v1h-1zM503 276h1v1h-1zM628 276h8v1h-8zM765 276h1v1h-1zM913 276h1v1h-1zM502 277h1v1h-1zM765 277h1v1h-1zM912 277h1v1h-1zM501 278h1v1h-1zM766 278h1v1h-1zM911 278h1v1h-1zM500 279h1v1h-1zM767 279h1v1h-1zM909 279h2v1h-2zM499 280h1v1h-1zM768 280h1v1h-1zM907 280h2v1h-2zM498 281h1v1h-1zM769 281h1v1h-1zM905 281h2v1h-2zM497 282h1v1h-1zM769 282h1v1h-1zM903 282h2v1h-2zM496 283h1v1h-1zM770 283h1v1h-1zM901 283h2v1h-2zM495 284h1v1h-1zM771 284h1v1h-1zM900 284h1v1h-1zM494 285h1v1h-1zM772 285h1v1h-1zM898 285h2v1h-2zM494 286h1v1h-1zM773 286h1v1h-1zM896 286h2v1h-2zM493 287h1v1h-1zM773 287h1v1h-1zM895 287h1v1h-1zM492 288h1v1h-1zM774 288h1v1h-1zM894 288h1v1h-1zM491 289h1v1h-1zM775 289h1v1h-1zM893 289h1v1h-1zM491 290h1v1h-1zM776 290h1v1h-1zM892 290h1v1h-1zM490 291h1v1h-1zM777 291h1v1h-1zM890 291h2v1h-2zM489 292h1v1h-1zM777 292h1v1h-1zM889 292h1v1h-1zM488 293h1v1h-1zM778 293h1v1h-1zM888 293h1v1h-1zM488 294h1v1h-1zM779 294h1v1h-1zM887 294h1v1h-1zM487 295h1v1h-1zM780 295h1v1h-1zM886 295h1v1h-1zM486 296h1v1h-1zM781 296h1v1h-1zM884 296h2v1h-2zM485 297h1v1h-1zM781 297h1v1h-1zM883 297h1v1h-1zM484 298h1v1h-1zM782 298h1v1h-1zM882 298h1v1h-1zM483 299h1v1h-1zM783 299h1v1h-1zM880 299h2v1h-2zM483 300h1v1h-1zM784 300h1v1h-1zM879 300h1v1h-1zM482 301h1v1h-1zM785 301h1v1h-1zM878 301h1v1h-1zM481 302h1v1h-1zM786 302h1v1h-1zM876 302h2v1h-2zM480 303h1v1h-1zM787 303h1v1h-1zM875 303h1v1h-1zM479 304h1v1h-1zM788 304h1v1h-1zM874 304h1v1h-1zM478 305h1v1h-1zM789 305h1v1h-1zM872 305h2v1h-2zM477 306h1v1h-1zM790 306h1v1h-1zM871 306h1v1h-1zM476 307h1v1h-1zM791 307h1v1h-1zM869 307h2v1h-2zM475 308h1v1h-1zM792 308h2v1h-2zM867 308h2v1h-2zM475 309h1v1h-1zM794 309h2v1h-2zM865 309h2v1h-2zM474 310h1v1h-1zM796 310h1v1h-1zM863 310h2v1h-2zM14 311h6v1h-6zM473 311h1v1h-1zM797 311h2v1h-2zM861 311h2v1h-2zM10 312h4v1h-4zM20 312h5v1h-5zM472 312h1v1h-1zM799 312h1v1h-1zM859 312h2v1h-2zM7 313h3v1h-3zM25 313h3v1h-3zM470 313h2v1h-2zM800 313h2v1h-2zM857 313h2v1h-2zM28 314h2v1h-2zM466 314h4v1h-4zM802 314h1v1h-1zM855 314h2v1h-2zM30 315h3v1h-3zM463 315h3v1h-3zM803 315h1v1h-1zM853 315h2v1h-2zM33 316h3v1h-3zM461 316h2v1h-2zM804 316h2v1h-2zM852 316h1v1h-1zM36 317h2v1h-2zM459 317h2v1h-2zM806 317h1v1h-1zM850 317h2v1h-2zM38 318h2v1h-2zM457 318h2v1h-2zM807 318h3v1h-3zM848 318h2v1h-2zM40 319h2v1h-2zM454 319h3v1h-3zM810 319h4v1h-4zM847 319h1v1h-1zM42 320h1v1h-1zM452 320h2v1h-2zM814 320h3v1h-3zM846 320h1v1h-1zM43 321h1v1h-1zM449 321h3v1h-3zM817 321h2v1h-2zM845 321h1v1h-1zM44 322h2v1h-2zM447 322h2v1h-2zM819 322h2v1h-2zM844 322h1v1h-1zM46 323h1v1h-1zM445 323h2v1h-2zM821 323h2v1h-2zM842 323h2v1h-2zM47 324h2v1h-2zM443 324h2v1h-2zM823 324h3v1h-3zM841 324h1v1h-1zM49 325h3v1h-3zM441 325h2v1h-2zM826 325h4v1h-4zM840 325h1v1h-1zM52 326h2v1h-2zM438 326h3v1h-3zM830 326h10v1h-10zM54 327h3v1h-3zM434 327h4v1h-4zM57 328h3v1h-3zM430 328h4v1h-4zM60 329h2v1h-2zM426 329h4v1h-4zM62 330h3v1h-3zM84 330h5v1h-5zM422 330h4v1h-4zM65 331h2v1h-2zM78 331h6v1h-6zM89 331h2v1h-2zM420 331h2v1h-2zM67 332h2v1h-2zM76 332h2v1h-2zM91 332h2v1h-2zM417 332h3v1h-3zM69 333h2v1h-2zM73 333h3v1h-3zM93 333h2v1h-2zM414 333h3v1h-3zM71 334h2v1h-2zM95 334h2v1h-2zM410 334h4v1h-4zM97 335h3v1h-3zM407 335h3v1h-3zM100 336h2v1h-2zM405 336h2v1h-2zM102 337h4v1h-4zM404 337h1v1h-1zM106 338h4v1h-4zM402 338h2v1h-2zM110 339h2v1h-2zM400 339h2v1h-2zM112 340h1v1h-1zM399 340h1v1h-1zM113 341h1v1h-1zM398 341h1v1h-1zM114 342h1v1h-1zM397 342h1v1h-1zM115 343h1v1h-1zM396 343h1v1h-1zM115 344h1v1h-1zM395 344h1v1h-1zM116 345h1v1h-1zM394 345h1v1h-1zM117 346h1v1h-1zM393 346h1v1h-1zM118 347h1v1h-1zM392 347h1v1h-1zM119 348h5v1h-5zM391 348h1v1h-1zM124 349h14v1h-14zM390 349h1v1h-1zM138 350h4v1h-4zM159 350h1v1h-1zM389 350h1v1h-1zM142 351h3v1h-3zM157 351h2v1h-2zM160 351h2v1h-2zM388 351h1v1h-1zM145 352h3v1h-3zM155 352h2v1h-2zM162 352h2v1h-2zM386 352h2v1h-2zM148 353h2v1h-2zM153 353h2v1h-2zM164 353h1v1h-1zM385 353h1v1h-1zM150 354h3v1h-3zM165 354h2v1h-2zM384 354h1v1h-1zM167 355h2v1h-2zM383 355h1v1h-1zM169 356h2v1h-2zM382 356h1v1h-1zM171 357h2v1h-2zM380 357h2v1h-2zM173 358h2v1h-2zM379 358h1v1h-1zM175 359h1v1h-1zM378 359h1v1h-1zM176 360h2v1h-2zM376 360h2v1h-2zM178 361h1v1h-1zM375 361h1v1h-1zM179 362h1v1h-1zM373 362h2v1h-2zM180 363h2v1h-2zM372 363h1v1h-1zM182 364h1v1h-1zM370 364h2v1h-2zM183 365h1v1h-1zM368 365h2v1h-2zM184 366h1v1h-1zM367 366h1v1h-1zM184 367h1v1h-1zM366 367h1v1h-1zM185 368h1v1h-1zM366 368h1v1h-1zM186 369h1v1h-1zM365 369h1v1h-1zM187 370h1v1h-1zM364 370h1v1h-1zM187 371h1v1h-1zM364 371h1v1h-1zM188 372h1v1h-1zM363 372h1v1h-1zM189 373h1v1h-1zM362 373h1v1h-1zM190 374h1v1h-1zM362 374h1v1h-1zM190 375h1v1h-1zM361 375h1v1h-1zM191 376h1v1h-1zM360 376h1v1h-1zM192 377h1v1h-1zM360 377h1v1h-1zM192 378h1v1h-1zM359 378h1v1h-1zM193 379h1v1h-1zM358 379h1v1h-1zM193 380h1v1h-1zM358 380h1v1h-1zM194 381h1v1h-1zM357 381h1v1h-1zM195 382h1v1h-1zM356 382h1v1h-1zM195 383h1v1h-1zM355 383h1v1h-1zM196 384h1v1h-1zM355 384h1v1h-1zM197 385h1v1h-1zM354 385h1v1h-1zM197 386h1v1h-1zM353 386h1v1h-1zM198 387h1v1h-1zM352 387h1v1h-1zM198 388h1v1h-1zM352 388h1v1h-1zM199 389h3v1h-3zM351 389h1v1h-1zM202 390h4v1h-4zM350 390h1v1h-1zM206 391h3v1h-3zM350 391h1v1h-1zM209 392h2v1h-2zM349 392h1v1h-1zM211 393h2v1h-2zM348 393h1v1h-1zM213 394h2v1h-2zM347 394h1v1h-1zM215 395h2v1h-2zM347 395h1v1h-1zM217 396h2v1h-2zM346 396h1v1h-1zM219 397h2v1h-2zM345 397h1v1h-1zM221 398h2v1h-2zM344 398h1v1h-1zM223 399h3v1h-3zM344 399h1v1h-1zM226 400h4v1h-4zM343 400h1v1h-1zM230 401h2v1h-2zM342 401h1v1h-1zM232 402h1v1h-1zM341 402h1v1h-1zM232 403h1v1h-1zM340 403h1v1h-1zM233 404h1v1h-1zM338 404h2v1h-2zM234 405h1v1h-1zM337 405h1v1h-1zM234 406h1v1h-1zM336 406h1v1h-1zM235 407h1v1h-1zM335 407h1v1h-1zM236 408h1v1h-1zM334 408h1v1h-1zM236 409h1v1h-1zM333 409h1v1h-1zM237 410h1v1h-1zM332 410h1v1h-1zM238 411h1v1h-1zM330 411h2v1h-2zM238 412h1v1h-1zM329 412h1v1h-1zM239 413h1v1h-1zM328 413h1v1h-1zM240 414h1v1h-1zM327 414h1v1h-1zM241 415h1v1h-1zM326 415h1v1h-1zM242 416h1v1h-1zM324 416h2v1h-2zM243 417h1v1h-1zM323 417h1v1h-1zM243 418h1v1h-1zM322 418h1v1h-1zM244 419h1v1h-1zM320 419h2v1h-2zM245 420h1v1h-1zM319 420h1v1h-1zM246 421h1v1h-1zM317 421h2v1h-2zM247 422h1v1h-1zM315 422h2v1h-2zM248 423h1v1h-1zM313 423h2v1h-2zM249 424h1v1h-1zM311 424h2v1h-2zM250 425h2v1h-2zM310 425h1v1h-1zM252 426h1v1h-1zM309 426h1v1h-1zM253 427h1v1h-1zM308 427h1v1h-1zM254 428h1v1h-1zM307 428h1v1h-1zM255 429h3v1h-3zM307 429h1v1h-1zM258 430h4v1h-4zM306 430h1v1h-1zM262 431h3v1h-3zM305 431h1v1h-1zM265 432h2v1h-2zM304 432h1v1h-1zM267 433h2v1h-2zM303 433h1v1h-1zM269 434h2v1h-2zM302 434h1v1h-1zM271 435h2v1h-2zM301 435h1v1h-1zM273 436h2v1h-2zM300 436h1v1h-1zM275 437h2v1h-2zM298 437h2v1h-2zM277 438h2v1h-2zM297 438h1v1h-1zM279 439h3v1h-3zM296 439h1v1h-1zM282 440h4v1h-4zM292 440h4v1h-4zM286 441h6v1h-6z" fill="#ff0000" shape-rendering="crispEdges"/>
<path d="M1007 92h2v1h-2zM1005 93h2v1h-2zM1009 93h3v1h-3zM1003 94h2v1h-2zM1012 94h2v1h-2zM1001 95h2v1h-2zM1014 95h4v1h-4zM999 96h2v1h-2zM1018 96h4v1h-4zM998 97h1v1h-1zM1022 97h3v1h-3zM997 98h1v1h-1zM1025 98h2v1h-2zM996 99h1v1h-1zM1027 99h2v1h-2zM994 100h2v1h-2zM1029 100h2v1h-2zM993 101h1v1h-1zM1031 101h2v1h-2zM992 102h1v1h-1zM1033 102h3v1h-3zM991 103h1v1h-1zM1036 103h2v1h-2zM990 104h1v1h-1zM1038 104h3v1h-3zM988 105h2v1h-2zM1041 105h3v1h-3zM1060 105h6v1h-6zM987 106h1v1h-1zM1044 106h2v1h-2zM1052 106h8v1h-8zM1066 106h4v1h-4zM986 107h1v1h-1zM1046 107h6v1h-6zM1070 107h2v1h-2zM984 108h2v1h-2zM1072 108h1v1h-1zM983 109h1v1h-1zM1073 109h1v1h-1zM982 110h1v1h-1zM1074 110h1v1h-1zM982 111h1v1h-1zM1075 111h1v1h-1zM981 112h1v1h-1zM1076 112h1v1h-1zM980 113h1v1h-1zM1077 113h1v1h-1zM980 114h1v1h-1zM1078 114h1v1h-1zM979 115h1v1h-1zM1079 115h1v1h-1zM978 116h1v1h-1zM1080 116h1v1h-1zM978 117h1v1h-1zM1081 117h1v1h-1zM977 118h1v1h-1zM1081 118h1v1h-1zM976 119h1v1h-1zM1082 119h1v1h-1zM976 120h1v1h-1zM1083 120h1v1h-1zM975 121h1v1h-1zM1084 121h1v1h-1zM974 122h1v1h-1zM1085 122h1v1h-1zM974 123h1v1h-1zM1085 123h1v1h-1zM973 124h1v1h-1zM1086 124h1v1h-1zM973 125h1v1h-1zM1087 125h1v1h-1zM972 126h1v1h-1zM1088 126h1v1h-1zM972 127h1v1h-1zM1088 127h1v1h-1zM971 128h1v1h-1zM1089 128h1v1h-1zM971 129h1v1h-1zM1089 129h1v1h-1zM970 130h1v1h-1zM1090 130h1v1h-1zM970 131h1v1h-1zM1090 131h1v1h-1zM969 132h1v1h-1zM1091 132h1v1h-1zM969 133h1v1h-1zM1091 133h1v1h-1zM968 134h1v1h-1zM1092 134h1v1h-1zM968 135h1v1h-1zM1092 135h1v1h-1zM967 136h1v1h-1zM1093 136h1v1h-1zM967 137h1v1h-1zM1093 137h1v1h-1zM967 138h1v1h-1zM1094 138h1v1h-1zM966 139h1v1h-1zM1094 139h1v1h-1zM966 140h1v1h-1zM1095 140h1v1h-1zM965 141h1v1h-1zM1096 141h1v1h-1zM965 142h1v1h-1zM1096 142h1v1h-1zM965 143h1v1h-1zM1097 143h1v1h-1zM964 144h1v1h-1zM1098 144h1v1h-1zM964 145h1v1h-1zM1098 145h1v1h-1zM964 146h1v1h-1zM1099 146h1v1h-1zM963 147h1v1h-1zM1100 147h1v1h-1zM963 148h1v1h-1zM1100 148h1v1h-1zM962 149h1v1h-1zM1101 149h1v1h-1zM962 150h1v1h-1zM1102 150h1v1h-1zM962 151h1v1h-1zM1102 151h1v1h-1zM961 152h1v1h-1zM1103 152h1v1h-1zM961 153h1v1h-1zM1103 153h1v1h-1zM961 154h1v1h-1zM1104 154h1v1h-1zM960 155h1v1h-1zM1104 155h1v1h-1zM960 156h1v1h-1zM1105 156h1v1h-1zM959 157h1v1h-1zM1105 157h1v1h-1zM959 158h1v1h-1zM1106 158h1v1h-1zM959 159h1v1h-1zM1106 159h1v1h-1zM958 160h1v1h-1zM1107 160h1v1h-1zM958 161h1v1h-1zM1107 161h1v1h-1zM958 162h1v1h-1zM1107 162h1v1h-1zM958 163h1v1h-1zM1108 163h1v1h-1zM957 164h1v1h-1zM1108 164h1v1h-1zM957 165h1v1h-1zM1109 165h1v1h-1zM957 166h1v1h-1zM1109 166h1v1h-1zM956 167h1v1h-1zM1110 167h1v1h-1zM956 168h1v1h-1zM1110 168h1v1h-1zM956 169h1v1h-1zM1111 169h1v1h-1zM955 170h1v1h-1zM1111 170h1v1h-1zM955 171h1v1h-1zM1112 171h1v1h-1zM955 172h1v1h-1zM1112 172h1v1h-1zM955 173h1v1h-1zM1113 173h1v1h-1zM954 174h1v1h-1zM1113 174h1v1h-1zM954 175h1v1h-1zM1114 175h1v1h-1zM954 176h1v1h-1zM1114 176h1v1h-1zM953 177h1v1h-1zM1115 177h1v1h-1zM953 178h1v1h-1zM1115 178h1v1h-1zM953 179h1v1h-1zM1116 179h1v1h-1zM952 180h1v1h-1zM1116 180h1v1h-1zM952 181h1v1h-1zM1117 181h1v1h-1zM952 182h1v1h-1zM1117 182h1v1h-1zM952 183h1v1h-1zM1118 183h1v1h-1zM951 184h1v1h-1zM1118 184h1v1h-1zM951 185h1v1h-1zM950 186h1v1h-1zM950 187h1v1h-1zM949 188h1v1h-1zM949 189h1v1h-1zM948 190h1v1h-1zM948 191h1v1h-1zM947 192h1v1h-1zM947 193h1v1h-1zM946 194h1v1h-1zM946 195h1v1h-1zM945 196h1v1h-1zM945 197h1v1h-1zM944 198h1v1h-1zM944 199h1v1h-1zM943 200h1v1h-1zM942 201h1v1h-1zM942 202h1v1h-1zM941 203h1v1h-1zM941 204h1v1h-1zM940 205h1v1h-1zM940 206h1v1h-1zM939 207h1v1h-1zM679 208h5v1h-5zM939 208h1v1h-1zM678 209h1v1h-1zM684 209h8v1h-8zM938 209h1v1h-1zM678 210h1v1h-1zM692 210h4v1h-4zM938 210h1v1h-1zM677 211h1v1h-1zM696 211h1v1h-1zM937 211h1v1h-1zM676 212h1v1h-1zM696 212h1v1h-1zM937 212h1v1h-1zM676 213h1v1h-1zM697 213h1v1h-1zM936 213h1v1h-1zM675 214h1v1h-1zM698 214h1v1h-1zM936 214h1v1h-1zM674 215h1v1h-1zM699 215h1v1h-1zM935 215h1v1h-1zM674 216h1v1h-1zM699 216h1v1h-1zM935 216h1v1h-1zM673 217h1v1h-1zM700 217h1v1h-1zM934 217h1v1h-1zM672 218h1v1h-1zM701 218h1v1h-1zM934 218h1v1h-1zM672 219h1v1h-1zM702 219h1v1h-1zM933 219h1v1h-1zM671 220h1v1h-1zM702 220h1v1h-1zM933 220h1v1h-1zM670 221h1v1h-1zM703 221h1v1h-1zM932 221h1v1h-1zM670 222h1v1h-1zM704 222h1v1h-1zM932 222h1v1h-1zM669 223h1v1h-1zM705 223h1v1h-1zM931 223h1v1h-1zM669 224h1v1h-1zM706 224h2v1h-2zM931 224h1v1h-1zM668 225h1v1h-1zM708 225h1v1h-1zM930 225h1v1h-1zM667 226h1v1h-1zM709 226h1v1h-1zM930 226h1v1h-1zM667 227h1v1h-1zM710 227h1v1h-1zM929 227h1v1h-1zM527 228h2v1h-2zM666 228h1v1h-1zM711 228h1v1h-1zM929 228h1v1h-1zM526 229h1v1h-1zM529 229h2v1h-2zM665 229h1v1h-1zM712 229h1v1h-1zM928 229h1v1h-1zM524 230h2v1h-2zM531 230h2v1h-2zM665 230h1v1h-1zM713 230h1v1h-1zM928 230h1v1h-1zM523 231h1v1h-1zM533 231h2v1h-2zM664 231h1v1h-1zM714 231h1v1h-1zM927 231h1v1h-1zM522 232h1v1h-1zM535 232h1v1h-1zM664 232h1v1h-1zM715 232h1v1h-1zM927 232h1v1h-1zM520 233h2v1h-2zM536 233h1v1h-1zM663 233h1v1h-1zM715 233h1v1h-1zM927 233h1v1h-1zM519 234h1v1h-1zM537 234h1v1h-1zM662 234h1v1h-1zM716 234h1v1h-1zM926 234h1v1h-1zM518 235h1v1h-1zM538 235h1v1h-1zM662 235h1v1h-1zM717 235h1v1h-1zM926 235h1v1h-1zM517 236h1v1h-1zM539 236h1v1h-1zM661 236h1v1h-1zM718 236h1v1h-1zM925 236h1v1h-1zM516 237h1v1h-1zM540 237h1v1h-1zM661 237h1v1h-1zM719 237h1v1h-1zM925 237h1v1h-1zM514 238h2v1h-2zM541 238h1v1h-1zM660 238h1v1h-1zM720 238h1v1h-1zM924 238h1v1h-1zM513 239h1v1h-1zM542 239h1v1h-1zM660 239h1v1h-1zM720 239h1v1h-1zM924 239h1v1h-1zM512 240h1v1h-1zM543 240h1v1h-1zM659 240h1v1h-1zM721 240h1v1h-1zM923 240h1v1h-1zM511 241h1v1h-1zM544 241h1v1h-1zM658 241h1v1h-1zM721 241h1v1h-1zM923 241h1v1h-1zM509 242h2v1h-2zM545 242h1v1h-1zM658 242h1v1h-1zM722 242h1v1h-1zM923 242h1v1h-1zM507 243h2v1h-2zM546 243h1v1h-1zM657 243h1v1h-1zM722 243h1v1h-1zM922 243h1v1h-1zM505 244h2v1h-2zM547 244h1v1h-1zM657 244h1v1h-1zM723 244h1v1h-1zM922 244h1v1h-1zM502 245h3v1h-3zM547 245h1v1h-1zM656 245h1v1h-1zM723 245h1v1h-1zM921 245h1v1h-1zM500 246h2v1h-2zM548 246h1v1h-1zM656 246h1v1h-1zM724 246h1v1h-1zM921 246h1v1h-1zM497 247h3v1h-3zM549 247h1v1h-1zM655 247h1v1h-1zM724 247h1v1h-1zM920 247h1v1h-1zM495 248h2v1h-2zM550 248h1v1h-1zM654 248h1v1h-1zM725 248h1v1h-1zM920 248h1v1h-1zM494 249h1v1h-1zM551 249h1v1h-1zM654 249h1v1h-1zM725 249h1v1h-1zM919 249h1v1h-1zM494 250h1v1h-1zM552 250h1v1h-1zM653 250h1v1h-1zM726 250h1v1h-1zM919 250h1v1h-1zM493 251h1v1h-1zM553 251h1v1h-1zM653 251h1v1h-1zM726 251h1v1h-1zM918 251h1v1h-1zM492 252h1v1h-1zM554 252h1v1h-1zM652 252h1v1h-1zM727 252h1v1h-1zM918 252h1v1h-1zM491 253h1v1h-1zM555 253h1v1h-1zM652 253h1v1h-1zM727 253h1v1h-1zM917 253h1v1h-1zM491 254h1v1h-1zM556 254h1v1h-1zM651 254h1v1h-1zM728 254h1v1h-1zM916 254h1v1h-1zM490 255h1v1h-1zM557 255h1v1h-1zM650 255h1v1h-1zM728 255h1v1h-1zM916 255h1v1h-1zM489 256h1v1h-1zM558 256h1v1h-1zM650 256h1v1h-1zM728 256h1v1h-1zM915 256h1v1h-1zM488 257h1v1h-1zM559 257h1v1h-1zM649 257h1v1h-1zM729 257h1v1h-1zM914 257h1v1h-1zM488 258h1v1h-1zM560 258h1v1h-1zM649 258h1v1h-1zM729 258h1v1h-1zM914 258h1v1h-1zM487 259h1v1h-1zM561 259h1v1h-1zM648 259h1v1h-1zM729 259h1v1h-1zM913 259h1v1h-1zM486 260h1v1h-1zM562 260h2v1h-2zM648 260h1v1h-1zM730 260h1v1h-1zM912 260h1v1h-1zM486 261h1v1h-1zM564 261h1v1h-1zM647 261h1v1h-1zM730 261h1v1h-1zM912 261h1v1h-1zM485 262h1v1h-1zM565 262h1v1h-1zM646 262h1v1h-1zM730 262h1v1h-1zM911 262h1v1h-1zM484 263h1v1h-1zM566 263h1v1h-1zM646 263h1v1h-1zM731 263h1v1h-1zM909 263h2v1h-2zM483 264h1v1h-1zM567 264h1v1h-1zM645 264h1v1h-1zM731 264h1v1h-1zM907 264h2v1h-2zM483 265h1v1h-1zM568 265h2v1h-2zM645 265h1v1h-1zM732 265h1v1h-1zM905 265h2v1h-2zM482 266h1v1h-1zM570 266h1v1h-1zM644 266h1v1h-1zM732 266h1v1h-1zM903 266h2v1h-2zM481 267h1v1h-1zM571 267h1v1h-1zM643 267h1v1h-1zM732 267h1v1h-1zM901 267h2v1h-2zM480 268h1v1h-1zM572 268h2v1h-2zM643 268h1v1h-1zM733 268h1v1h-1zM899 268h2v1h-2zM480 269h1v1h-1zM574 269h1v1h-1zM642 269h1v1h-1zM733 269h1v1h-1zM897 269h2v1h-2zM479 270h1v1h-1zM575 270h1v1h-1zM641 270h1v1h-1zM733 270h1v1h-1zM895 270h2v1h-2zM478 271h1v1h-1zM576 271h1v1h-1zM641 271h1v1h-1zM734 271h1v1h-1zM893 271h2v1h-2zM478 272h1v1h-1zM577 272h1v1h-1zM640 272h1v1h-1zM734 272h1v1h-1zM892 272h1v1h-1zM477 273h1v1h-1zM578 273h2v1h-2zM640 273h1v1h-1zM734 273h1v1h-1zM890 273h2v1h-2zM477 274h1v1h-1zM580 274h1v1h-1zM639 274h1v1h-1zM735 274h1v1h-1zM888 274h2v1h-2zM476 275h1v1h-1zM581 275h1v1h-1zM638 275h1v1h-1zM735 275h1v1h-1zM887 275h1v1h-1zM475 276h1v1h-1zM582 276h1v1h-1zM637 276h1v1h-1zM735 276h1v1h-1zM886 276h1v1h-1zM475 277h1v1h-1zM583 277h5v1h-5zM636 277h1v1h-1zM736 277h1v1h-1zM884 277h2v1h-2zM474 278h1v1h-1zM588 278h5v1h-5zM634 278h2v1h-2zM736 278h1v1h-1zM883 278h1v1h-1zM473 279h1v1h-1zM593 279h2v1h-2zM633 279h1v1h-1zM737 279h1v1h-1zM882 279h1v1h-1zM473 280h1v1h-1zM595 280h2v1h-2zM632 280h1v1h-1zM737 280h1v1h-1zM880 280h2v1h-2zM472 281h1v1h-1zM597 281h2v1h-2zM631 281h1v1h-1zM738 281h1v1h-1zM879 281h1v1h-1zM472 282h1v1h-1zM599 282h3v1h-3zM630 282h1v1h-1zM738 282h1v1h-1zM878 282h1v1h-1zM471 283h1v1h-1zM602 283h4v1h-4zM628 283h2v1h-2zM739 283h1v1h-1zM877 283h1v1h-1zM470 284h1v1h-1zM606 284h4v1h-4zM627 284h1v1h-1zM739 284h1v1h-1zM876 284h1v1h-1zM468 285h2v1h-2zM610 285h4v1h-4zM626 285h1v1h-1zM739 285h1v1h-1zM874 285h2v1h-2zM467 286h1v1h-1zM614 286h6v1h-6zM624 286h2v1h-2zM740 286h1v1h-1zM873 286h1v1h-1zM466 287h1v1h-1zM620 287h4v1h-4zM740 287h1v1h-1zM872 287h1v1h-1zM464 288h2v1h-2zM741 288h1v1h-1zM863 288h9v1h-9zM463 289h1v1h-1zM741 289h1v1h-1zM862 289h1v1h-1zM462 290h1v1h-1zM742 290h1v1h-1zM860 290h2v1h-2zM461 291h1v1h-1zM742 291h1v1h-1zM859 291h1v1h-1zM460 292h1v1h-1zM743 292h1v1h-1zM858 292h1v1h-1zM459 293h1v1h-1zM743 293h1v1h-1zM856 293h2v1h-2zM458 294h1v1h-1zM744 294h1v1h-1zM855 294h1v1h-1zM457 295h1v1h-1zM744 295h1v1h-1zM853 295h2v1h-2zM456 296h1v1h-1zM745 296h1v1h-1zM852 296h1v1h-1zM455 297h1v1h-1zM746 297h1v1h-1zM850 297h2v1h-2zM454 298h1v1h-1zM746 298h1v1h-1zM848 298h2v1h-2zM454 299h1v1h-1zM747 299h1v1h-1zM847 299h1v1h-1zM453 300h1v1h-1zM748 300h1v1h-1zM846 300h1v1h-1zM452 301h1v1h-1zM748 301h1v1h-1zM844 301h2v1h-2zM451 302h1v1h-1zM749 302h1v1h-1zM843 302h1v1h-1zM451 303h1v1h-1zM750 303h1v1h-1zM842 303h1v1h-1zM450 304h1v1h-1zM750 304h1v1h-1zM840 304h2v1h-2zM7 305h5v1h-5zM449 305h1v1h-1zM751 305h1v1h-1zM839 305h1v1h-1zM12 306h5v1h-5zM448 306h1v1h-1zM752 306h1v1h-1zM838 306h1v1h-1zM17 307h3v1h-3zM448 307h1v1h-1zM753 307h1v1h-1zM837 307h1v1h-1zM20 308h2v1h-2zM447 308h1v1h-1zM753 308h1v1h-1zM836 308h1v1h-1zM22 309h2v1h-2zM446 309h1v1h-1zM754 309h1v1h-1zM834 309h2v1h-2zM24 310h1v1h-1zM446 310h1v1h-1zM755 310h1v1h-1zM833 310h1v1h-1zM25 311h1v1h-1zM445 311h1v1h-1zM756 311h1v1h-1zM832 311h1v1h-1zM26 312h1v1h-1zM444 312h1v1h-1zM757 312h1v1h-1zM831 312h1v1h-1zM27 313h1v1h-1zM444 313h1v1h-1zM757 313h1v1h-1zM830 313h1v1h-1zM28 314h1v1h-1zM443 314h1v1h-1zM758 314h1v1h-1zM828 314h2v1h-2zM29 315h1v1h-1zM442 315h1v1h-1zM759 315h1v1h-1zM827 315h1v1h-1zM30 316h1v1h-1zM442 316h1v1h-1zM760 316h1v1h-1zM826 316h1v1h-1zM31 317h1v1h-1zM441 317h1v1h-1zM760 317h1v1h-1zM824 317h2v1h-2zM32 318h1v1h-1zM440 318h1v1h-1zM761 318h1v1h-1zM823 318h1v1h-1zM32 319h1v1h-1zM440 319h1v1h-1zM761 319h1v1h-1zM822 319h1v1h-1zM33 320h1v1h-1zM439 320h1v1h-1zM762 320h1v1h-1zM821 320h1v1h-1zM33 321h1v1h-1zM438 321h1v1h-1zM762 321h1v1h-1zM820 321h1v1h-1zM34 322h1v1h-1zM438 322h1v1h-1zM763 322h1v1h-1zM819 322h1v1h-1zM35 323h1v1h-1zM359 323h9v1h-9zM437 323h1v1h-1zM764 323h1v1h-1zM818 323h1v1h-1zM35 324h1v1h-1zM358 324h1v1h-1zM368 324h2v1h-2zM436 324h1v1h-1zM764 324h1v1h-1zM817 324h1v1h-1zM36 325h1v1h-1zM356 325h2v1h-2zM370 325h2v1h-2zM435 325h1v1h-1zM765 325h1v1h-1zM816 325h1v1h-1zM37 326h1v1h-1zM355 326h1v1h-1zM372 326h1v1h-1zM435 326h1v1h-1zM765 326h1v1h-1zM815 326h1v1h-1zM37 327h1v1h-1zM354 327h1v1h-1zM373 327h2v1h-2zM434 327h1v1h-1zM766 327h1v1h-1zM814 327h1v1h-1zM38 328h1v1h-1zM352 328h2v1h-2zM375 328h1v1h-1zM433 328h1v1h-1zM766 328h1v1h-1zM813 328h1v1h-1zM38 329h1v1h-1zM351 329h1v1h-1zM376 329h2v1h-2zM432 329h1v1h-1zM767 329h1v1h-1zM812 329h1v1h-1zM39 330h1v1h-1zM350 330h1v1h-1zM378 330h2v1h-2zM432 330h1v1h-1zM768 330h1v1h-1zM810 330h2v1h-2zM40 331h1v1h-1zM349 331h1v1h-1zM380 331h1v1h-1zM431 331h1v1h-1zM769 331h1v1h-1zM809 331h1v1h-1zM40 332h1v1h-1zM348 332h1v1h-1zM381 332h2v1h-2zM430 332h1v1h-1zM770 332h1v1h-1zM808 332h1v1h-1zM41 333h1v1h-1zM108 333h4v1h-4zM347 333h1v1h-1zM383 333h2v1h-2zM429 333h1v1h-1zM771 333h1v1h-1zM804 333h4v1h-4zM41 334h1v1h-1zM102 334h6v1h-6zM112 334h1v1h-1zM347 334h1v1h-1zM385 334h3v1h-3zM428 334h1v1h-1zM771 334h1v1h-1zM799 334h5v1h-5zM42 335h1v1h-1zM100 335h2v1h-2zM113 335h1v1h-1zM346 335h1v1h-1zM388 335h2v1h-2zM426 335h2v1h-2zM772 335h1v1h-1zM797 335h2v1h-2zM43 336h1v1h-1zM97 336h3v1h-3zM114 336h1v1h-1zM345 336h1v1h-1zM390 336h3v1h-3zM425 336h1v1h-1zM773 336h1v1h-1zM796 336h1v1h-1zM43 337h1v1h-1zM95 337h2v1h-2zM115 337h1v1h-1zM344 337h1v1h-1zM393 337h2v1h-2zM424 337h1v1h-1zM774 337h1v1h-1zM794 337h2v1h-2zM44 338h1v1h-1zM93 338h2v1h-2zM116 338h1v1h-1zM343 338h1v1h-1zM395 338h2v1h-2zM423 338h1v1h-1zM775 338h1v1h-1zM792 338h2v1h-2zM45 339h1v1h-1zM91 339h2v1h-2zM117 339h1v1h-1zM126 339h2v1h-2zM343 339h1v1h-1zM397 339h2v1h-2zM421 339h2v1h-2zM776 339h1v1h-1zM791 339h1v1h-1zM45 340h1v1h-1zM89 340h2v1h-2zM118 340h1v1h-1zM122 340h4v1h-4zM128 340h2v1h-2zM342 340h1v1h-1zM399 340h5v1h-5zM419 340h2v1h-2zM777 340h1v1h-1zM790 340h1v1h-1zM46 341h1v1h-1zM87 341h2v1h-2zM119 341h3v1h-3zM130 341h1v1h-1zM342 341h1v1h-1zM404 341h8v1h-8zM417 341h2v1h-2zM778 341h2v1h-2zM788 341h2v1h-2zM46 342h1v1h-1zM86 342h1v1h-1zM131 342h1v1h-1zM341 342h1v1h-1zM412 342h5v1h-5zM780 342h1v1h-1zM787 342h1v1h-1zM47 343h1v1h-1zM86 343h1v1h-1zM132 343h2v1h-2zM341 343h1v1h-1zM781 343h1v1h-1zM786 343h1v1h-1zM48 344h2v1h-2zM85 344h1v1h-1zM134 344h1v1h-1zM341 344h1v1h-1zM782 344h1v1h-1zM784 344h2v1h-2zM50 345h2v1h-2zM85 345h1v1h-1zM135 345h1v1h-1zM340 345h1v1h-1zM783 345h1v1h-1zM52 346h1v1h-1zM84 346h1v1h-1zM136 346h1v1h-1zM340 346h1v1h-1zM53 347h2v1h-2zM83 347h1v1h-1zM136 347h1v1h-1zM339 347h1v1h-1zM55 348h1v1h-1zM83 348h1v1h-1zM137 348h1v1h-1zM339 348h1v1h-1zM56 349h1v1h-1zM82 349h1v1h-1zM137 349h1v1h-1zM339 349h1v1h-1zM57 350h1v1h-1zM81 350h1v1h-1zM138 350h1v1h-1zM338 350h1v1h-1zM58 351h2v1h-2zM81 351h1v1h-1zM138 351h1v1h-1zM338 351h1v1h-1zM60 352h1v1h-1zM80 352h1v1h-1zM139 352h1v1h-1zM337 352h1v1h-1zM61 353h1v1h-1zM80 353h1v1h-1zM139 353h1v1h-1zM337 353h1v1h-1zM62 354h1v1h-1zM79 354h1v1h-1zM140 354h1v1h-1zM337 354h1v1h-1zM63 355h2v1h-2zM77 355h2v1h-2zM140 355h1v1h-1zM336 355h1v1h-1zM65 356h2v1h-2zM76 356h1v1h-1zM141 356h1v1h-1zM336 356h1v1h-1zM67 357h2v1h-2zM74 357h2v1h-2zM141 357h1v1h-1zM335 357h1v1h-1zM69 358h2v1h-2zM72 358h2v1h-2zM142 358h1v1h-1zM335 358h1v1h-1zM71 359h1v1h-1zM142 359h1v1h-1zM335 359h1v1h-1zM143 360h1v1h-1zM334 360h1v1h-1zM144 361h1v1h-1zM334 361h1v1h-1zM145 362h1v1h-1zM333 362h1v1h-1zM146 363h1v1h-1zM333 363h1v1h-1zM147 364h1v1h-1zM333 364h1v1h-1zM148 365h1v1h-1zM332 365h1v1h-1zM149 366h1v1h-1zM332 366h1v1h-1zM150 367h1v1h-1zM156 367h4v1h-4zM331 367h1v1h-1zM151 368h5v1h-5zM160 368h1v1h-1zM331 368h1v1h-1zM161 369h1v1h-1zM331 369h1v1h-1zM162 370h1v1h-1zM330 370h1v1h-1zM163 371h1v1h-1zM330 371h1v1h-1zM163 372h1v1h-1zM329 372h1v1h-1zM164 373h1v1h-1zM329 373h1v1h-1zM165 374h1v1h-1zM329 374h1v1h-1zM166 375h1v1h-1zM328 375h1v1h-1zM167 376h3v1h-3zM328 376h1v1h-1zM170 377h4v1h-4zM327 377h1v1h-1zM174 378h2v1h-2zM327 378h1v1h-1zM175 379h1v1h-1zM326 379h1v1h-1zM176 380h1v1h-1zM326 380h1v1h-1zM176 381h1v1h-1zM325 381h1v1h-1zM177 382h1v1h-1zM325 382h1v1h-1zM177 383h1v1h-1zM324 383h1v1h-1zM178 384h1v1h-1zM324 384h1v1h-1zM178 385h1v1h-1zM323 385h1v1h-1zM179 386h1v1h-1zM323 386h1v1h-1zM179 387h1v1h-1zM322 387h1v1h-1zM180 388h1v1h-1zM322 388h1v1h-1zM180 389h1v1h-1zM321 389h1v1h-1zM181 390h1v1h-1zM321 390h1v1h-1zM181 391h1v1h-1zM320 391h1v1h-1zM182 392h1v1h-1zM320 392h1v1h-1zM182 393h1v1h-1zM319 393h1v1h-1zM183 394h1v1h-1zM319 394h1v1h-1zM183 395h1v1h-1zM318 395h1v1h-1zM184 396h1v1h-1zM318 396h1v1h-1zM184 397h1v1h-1zM317 397h1v1h-1zM185 398h1v1h-1zM317 398h1v1h-1zM185 399h1v1h-1zM316 399h1v1h-1zM186 400h1v1h-1zM316 400h1v1h-1zM186 401h1v1h-1zM315 401h1v1h-1zM187 402h1v1h-1zM315 402h1v1h-1zM187 403h1v1h-1zM314 403h1v1h-1zM188 404h1v1h-1zM314 404h1v1h-1zM188 405h1v1h-1zM313 405h1v1h-1zM189 406h1v1h-1zM313 406h1v1h-1zM189 407h1v1h-1zM312 407h1v1h-1zM190 408h1v1h-1zM312 408h1v1h-1zM190 409h1v1h-1zM311 409h1v1h-1zM191 410h1v1h-1zM311 410h1v1h-1zM191 411h1v1h-1zM310 411h1v1h-1zM192 412h2v1h-2zM310 412h1v1h-1zM194 413h2v1h-2zM206 413h2v1h-2zM310 413h1v1h-1zM196 414h1v1h-1zM204 414h2v1h-2zM208 414h1v1h-1zM309 414h1v1h-1zM197 415h2v1h-2zM201 415h3v1h-3zM209 415h1v1h-1zM309 415h1v1h-1zM199 416h2v1h-2zM210 416h1v1h-1zM309 416h1v1h-1zM211 417h1v1h-1zM308 417h1v1h-1zM211 418h1v1h-1zM308 418h1v1h-1zM212 419h1v1h-1zM308 419h1v1h-1zM213 420h1v1h-1zM307 420h1v1h-1zM214 421h1v1h-1zM307 421h1v1h-1zM215 422h5v1h-5zM307 422h1v1h-1zM220 423h12v1h-12zM307 423h1v1h-1zM232 424h2v1h-2zM306 424h1v1h-1zM234 425h1v1h-1zM306 425h1v1h-1zM235 426h1v1h-1zM306 426h1v1h-1zM236 427h2v1h-2zM305 427h1v1h-1zM238 428h1v1h-1zM305 428h1v1h-1zM239 429h9v1h-9zM305 429h1v1h-1zM248 430h1v1h-1zM304 430h1v1h-1zM249 431h1v1h-1zM304 431h1v1h-1zM250 432h1v1h-1zM304 432h1v1h-1zM251 433h1v1h-1zM303 433h1v1h-1zM251 434h1v1h-1zM303 434h1v1h-1zM252 435h1v1h-1zM302 435h1v1h-1zM253 436h1v1h-1zM302 436h1v1h-1zM254 437h1v1h-1zM301 437h1v1h-1zM255 438h1v1h-1zM301 438h1v1h-1zM256 439h1v1h-1zM300 439h1v1h-1zM257 440h1v1h-1zM300 440h1v1h-1zM258 441h1v1h-1zM299 441h1v1h-1zM259 442h1v1h-1zM299 442h1v1h-1zM259 443h1v1h-1zM298 443h1v1h-1zM260 444h1v1h-1zM298 444h1v1h-1zM261 445h1v1h-1zM297 445h1v1h-1zM262 446h1v1h-1zM297 446h1v1h-1zM263 447h2v1h-2zM296 447h1v1h-1zM265 448h2v1h-2zM296 448h1v1h-1zM267 449h2v1h-2zM295 449h1v1h-1zM269 450h2v1h-2zM294 450h1v1h-1zM271 451h2v1h-2zM294 451h1v1h-1zM273 452h2v1h-2zM293 452h1v1h-1zM275 453h2v1h-2zM292 453h1v1h-1zM277 454h2v1h-2zM292 454h1v1h-1zM279 455h1v1h-1zM291 455h1v1h-1zM280 456h2v1h-2zM290 456h1v1h-1zM282 457h1v1h-1zM290 457h1v1h-1zM283 458h1v1h-1zM289 458h1v1h-1zM284 459h2v1h-2zM288 459h1v1h-1zM286 460h1v1h-1zM288 460h1v1h-1zM287 461h1v1h-1z" fill="#0000cd" shape-rendering="crispEdges"/>
<g shape-rendering="crispEdges">
<rect x="920" y="60" width="317" height="6" fill="#ff3a3a"/>
<rect x="917" y="173" width="321" height="6" fill="#99cc00"/>
<rect x="6" y="26" width="1" height="540" fill="#000"/>
<rect x="7" y="628" width="1" height="5" fill="#c0c0c0"/>
<rect x="15" y="628" width="1" height="4" fill="#c0c0c0"/>
<rect x="23" y="628" width="1" height="8" fill="#c0c0c0"/>
<rect x="31" y="628" width="1" height="12" fill="#c0c0c0"/>
<rect x="39" y="628" width="1" height="17" fill="#c0c0c0"/>
<rect x="47" y="628" width="1" height="20" fill="#c0c0c0"/>
<rect x="55" y="628" width="1" height="18" fill="#c0c0c0"/>
<rect x="63" y="628" width="1" height="19" fill="#c0c0c0"/>
<rect x="71" y="628" width="1" height="18" fill="#c0c0c0"/>
<rect x="79" y="628" width="1" height="13" fill="#c0c0c0"/>
<rect x="87" y="628" width="1" height="9" fill="#c0c0c0"/>
<rect x="95" y="628" width="1" height="10" fill="#c0c0c0"/>
<rect x="103" y="628" width="1" height="11" fill="#c0c0c0"/>
<rect x="111" y="628" width="1" height="11" fill="#c0c0c0"/>
<rect x="119" y="628" width="1" height="15" fill="#c0c0c0"/>
<rect x="127" y="628" width="1" height="13" fill="#c0c0c0"/>
<rect x="135" y="628" width="1" height="12" fill="#c0c0c0"/>
<rect x="143" y="628" width="1" height="17" fill="#c0c0c0"/>
<rect x="151" y="628" width="1" height="20" fill="#c0c0c0"/>
<rect x="159" y="628" width="1" height="16" fill="#c0c0c0"/>
<rect x="167" y="628" width="1" height="18" fill="#c0c0c0"/>
<rect x="175" y="628" width="1" height="22" fill="#c0c0c0"/>
<rect x="183" y="628" width="1" height="26" fill="#c0c0c0"/>
<rect x="191" y="628" width="1" height="30" fill="#c0c0c0"/>
<rect x="199" y="628" width="1" height="33" fill="#c0c0c0"/>
<rect x="207" y="628" width="1" height="29" fill="#c0c0c0"/>
<rect x="215" y="628" width="1" height="27" fill="#c0c0c0"/>
<rect x="223" y="628" width="1" height="26" fill="#c0c0c0"/>
<rect x="231" y="628" width="1" height="26" fill="#c0c0c0"/>
<rect x="239" y="628" width="1" height="29" fill="#c0c0c0"/>
<rect x="247" y="628" width="1" height="30" fill="#c0c0c0"/>
<rect x="255" y="628" width="1" height="38" fill="#c0c0c0"/>
<rect x="263" y="628" width="1" height="35" fill="#c0c0c0"/>
<rect x="271" y="628" width="1" height="32" fill="#c0c0c0"/>
<rect x="279" y="628" width="1" height="29" fill="#c0c0c0"/>
<rect x="287" y="628" width="1" height="28" fill="#c0c0c0"/>
<rect x="295" y="628" width="1" height="23" fill="#c0c0c0"/>
<rect x="303" y="628" width="1" height="16" fill="#c0c0c0"/>
<rect x="311" y="628" width="1" height="8" fill="#c0c0c0"/>
<rect x="327" y="623" width="1" height="6" fill="#c0c0c0"/>
<rect x="335" y="616" width="1" height="13" fill="#c0c0c0"/>
<rect x="343" y="612" width="1" height="17" fill="#c0c0c0"/>
<rect x="351" y="610" width="1" height="19" fill="#c0c0c0"/>
<rect x="359" y="609" width="1" height="20" fill="#c0c0c0"/>
<rect x="367" y="610" width="1" height="19" fill="#c0c0c0"/>
<rect x="375" y="611" width="1" height="18" fill="#c0c0c0"/>
<rect x="383" y="613" width="1" height="16" fill="#c0c0c0"/>
<rect x="391" y="613" width="1" height="16" fill="#c0c0c0"/>
<rect x="399" y="613" width="1" height="16" fill="#c0c0c0"/>
<rect x="407" y="613" width="1" height="16" fill="#c0c0c0"/>
<rect x="415" y="613" width="1" height="16" fill="#c0c0c0"/>
<rect x="423" y="612" width="1" height="17" fill="#c0c0c0"/>
<rect x="431" y="610" width="1" height="19" fill="#c0c0c0"/>
<rect x="439" y="607" width="1" height="22" fill="#c0c0c0"/>
<rect x="447" y="603" width="1" height="26" fill="#c0c0c0"/>
<rect x="455" y="600" width="1" height="29" fill="#c0c0c0"/>
<rect x="463" y="600" width="1" height="29" fill="#c0c0c0"/>
<rect x="471" y="601" width="1" height="28" fill="#c0c0c0"/>
<rect x="479" y="598" width="1" height="31" fill="#c0c0c0"/>
<rect x="487" y="595" width="1" height="34" fill="#c0c0c0"/>
<rect x="495" y="590" width="1" height="39" fill="#c0c0c0"/>
<rect x="503" y="590" width="1" height="39" fill="#c0c0c0"/>
<rect x="511" y="590" width="1" height="39" fill="#c0c0c0"/>
<rect x="519" y="592" width="1" height="37" fill="#c0c0c0"/>
<rect x="527" y="593" width="1" height="36" fill="#c0c0c0"/>
<rect x="535" y="597" width="1" height="32" fill="#c0c0c0"/>
<rect x="543" y="601" width="1" height="28" fill="#c0c0c0"/>
<rect x="551" y="604" width="1" height="25" fill="#c0c0c0"/>
<rect x="559" y="608" width="1" height="21" fill="#c0c0c0"/>
<rect x="567" y="611" width="1" height="18" fill="#c0c0c0"/>
<rect x="575" y="613" width="1" height="16" fill="#c0c0c0"/>
<rect x="583" y="616" width="1" height="13" fill="#c0c0c0"/>
<rect x="591" y="617" width="1" height="12" fill="#c0c0c0"/>
<rect x="599" y="622" width="1" height="7" fill="#c0c0c0"/>
<rect x="607" y="622" width="1" height="7" fill="#c0c0c0"/>
<rect x="615" y="624" width="1" height="5" fill="#c0c0c0"/>
<rect x="623" y="625" width="1" height="4" fill="#c0c0c0"/>
<rect x="631" y="622" width="1" height="7" fill="#c0c0c0"/>
<rect x="639" y="621" width="1" height="8" fill="#c0c0c0"/>
<rect x="647" y="612" width="1" height="17" fill="#c0c0c0"/>
<rect x="655" y="610" width="1" height="19" fill="#c0c0c0"/>
<rect x="663" y="608" width="1" height="21" fill="#c0c0c0"/>
<rect x="671" y="604" width="1" height="25" fill="#c0c0c0"/>
<rect x="679" y="604" width="1" height="25" fill="#c0c0c0"/>
<rect x="687" y="608" width="1" height="21" fill="#c0c0c0"/>
<rect x="695" y="611" width="1" height="18" fill="#c0c0c0"/>
<rect x="703" y="614" width="1" height="15" fill="#c0c0c0"/>
<rect x="711" y="617" width="1" height="12" fill="#c0c0c0"/>
<rect x="719" y="620" width="1" height="9" fill="#c0c0c0"/>
<rect x="727" y="624" width="1" height="5" fill="#c0c0c0"/>
<rect x="735" y="628" width="1" height="5" fill="#c0c0c0"/>
<rect x="743" y="628" width="1" height="12" fill="#c0c0c0"/>
<rect x="751" y="628" width="1" height="16" fill="#c0c0c0"/>
<rect x="759" y="628" width="1" height="17" fill="#c0c0c0"/>
<rect x="767" y="628" width="1" height="22" fill="#c0c0c0"/>
<rect x="775" y="628" width="1" height="23" fill="#c0c0c0"/>
<rect x="783" y="628" width="1" height="23" fill="#c0c0c0"/>
<rect x="791" y="628" width="1" height="22" fill="#c0c0c0"/>
<rect x="799" y="628" width="1" height="20" fill="#c0c0c0"/>
<rect x="807" y="628" width="1" height="20" fill="#c0c0c0"/>
<rect x="815" y="628" width="1" height="16" fill="#c0c0c0"/>
<rect x="823" y="628" width="1" height="13" fill="#c0c0c0"/>
<rect x="831" y="628" width="1" height="12" fill="#c0c0c0"/>
<rect x="839" y="628" width="1" height="9" fill="#c0c0c0"/>
<rect x="847" y="628" width="1" height="6" fill="#c0c0c0"/>
<rect x="855" y="628" width="1" height="4" fill="#c0c0c0"/>
<rect x="863" y="628" width="1" height="2" fill="#c0c0c0"/>
<rect x="871" y="628" width="1" height="1" fill="#c0c0c0"/>
<rect x="879" y="627" width="1" height="2" fill="#c0c0c0"/>
<rect x="887" y="624" width="1" height="5" fill="#c0c0c0"/>
<rect x="895" y="622" width="1" height="7" fill="#c0c0c0"/>
<rect x="903" y="621" width="1" height="8" fill="#c0c0c0"/>
<rect x="911" y="619" width="1" height="10" fill="#c0c0c0"/>
<rect x="919" y="614" width="1" height="15" fill="#c0c0c0"/>
<rect x="927" y="608" width="1" height="21" fill="#c0c0c0"/>
<rect x="935" y="601" width="1" height="28" fill="#c0c0c0"/>
<rect x="943" y="595" width="1" height="34" fill="#c0c0c0"/>
<rect x="951" y="591" width="1" height="38" fill="#c0c0c0"/>
<rect x="959" y="584" width="1" height="45" fill="#c0c0c0"/>
<rect x="967" y="579" width="1" height="50" fill="#c0c0c0"/>
<rect x="975" y="576" width="1" height="53" fill="#c0c0c0"/>
<rect x="983" y="575" width="1" height="54" fill="#c0c0c0"/>
<rect x="991" y="574" width="1" height="55" fill="#c0c0c0"/>
<rect x="999" y="574" width="1" height="55" fill="#c0c0c0"/>
<rect x="1007" y="575" width="1" height="54" fill="#c0c0c0"/>
<rect x="1015" y="577" width="1" height="52" fill="#c0c0c0"/>
<rect x="1023" y="579" width="1" height="50" fill="#c0c0c0"/>
<rect x="1031" y="582" width="1" height="47" fill="#c0c0c0"/>
<rect x="1039" y="586" width="1" height="43" fill="#c0c0c0"/>
<rect x="1047" y="589" width="1" height="40" fill="#c0c0c0"/>
<rect x="1055" y="590" width="1" height="39" fill="#c0c0c0"/>
<rect x="1063" y="590" width="1" height="39" fill="#c0c0c0"/>
<rect x="1071" y="595" width="1" height="34" fill="#c0c0c0"/>
<rect x="1079" y="601" width="1" height="28" fill="#c0c0c0"/>
<rect x="1087" y="608" width="1" height="21" fill="#c0c0c0"/>
<rect x="1095" y="618" width="1" height="11" fill="#c0c0c0"/>
<rect x="1103" y="623" width="1" height="6" fill="#c0c0c0"/>
<rect x="1111" y="627" width="1" height="2" fill="#c0c0c0"/>
<rect x="1119" y="628" width="1" height="1" fill="#c0c0c0"/>
</g>
<line x1="7" y1="713.5" x2="1422" y2="713.5" stroke="#c0c0c0" stroke-width="1" stroke-dasharray="3,3" shape-rendering="crispEdges"/>
<line x1="7" y1="764.5" x2="1422" y2="764.5" stroke="#c0c0c0" stroke-width="1" stroke-dasharray="3,3" shape-rendering="crispEdges"/>
<path d="M1021 576h3v1h-3zM1027 576h3v1h-3zM1033 576h3v1h-3zM1039 576h3v1h-3zM1015 577h3v1h-3zM1045 577h1v1h-1zM1010 578h2v1h-2zM1046 578h2v1h-2zM1051 578h1v1h-1zM1009 579h1v1h-1zM1052 579h2v1h-2zM1004 580h2v1h-2zM1057 580h3v1h-3zM1003 581h1v1h-1zM999 582h1v1h-1zM1063 582h2v1h-2zM997 583h2v1h-2zM1065 583h1v1h-1zM1069 584h1v1h-1zM993 585h1v1h-1zM1070 585h2v1h-2zM991 586h2v1h-2zM1075 586h1v1h-1zM1076 587h2v1h-2zM986 589h2v1h-2zM1081 589h3v1h-3zM985 590h1v1h-1zM1087 591h2v1h-2zM981 592h1v1h-1zM1089 592h1v1h-1zM524 593h2v1h-2zM529 593h3v1h-3zM535 593h3v1h-3zM541 593h3v1h-3zM547 593h1v1h-1zM979 593h2v1h-2zM517 594h3v1h-3zM523 594h1v1h-1zM548 594h2v1h-2zM553 594h3v1h-3zM1093 594h2v1h-2zM511 595h3v1h-3zM559 595h3v1h-3zM975 595h1v1h-1zM1095 595h1v1h-1zM505 596h3v1h-3zM565 596h1v1h-1zM973 596h2v1h-2zM500 597h2v1h-2zM566 597h2v1h-2zM1099 597h1v1h-1zM499 598h1v1h-1zM571 598h1v1h-1zM1100 598h1v1h-1zM494 599h2v1h-2zM572 599h2v1h-2zM968 599h2v1h-2zM1101 599h1v1h-1zM493 600h1v1h-1zM577 600h1v1h-1zM967 600h1v1h-1zM489 601h1v1h-1zM578 601h2v1h-2zM1105 601h2v1h-2zM487 602h2v1h-2zM583 602h2v1h-2zM1107 602h1v1h-1zM482 603h2v1h-2zM585 603h1v1h-1zM963 603h1v1h-1zM476 604h2v1h-2zM481 604h1v1h-1zM962 604h1v1h-1zM1111 604h2v1h-2zM469 605h3v1h-3zM475 605h1v1h-1zM589 605h2v1h-2zM961 605h1v1h-1zM1113 605h1v1h-1zM463 606h3v1h-3zM591 606h1v1h-1zM458 607h2v1h-2zM595 607h1v1h-1zM957 607h1v1h-1zM1117 607h2v1h-2zM457 608h1v1h-1zM596 608h2v1h-2zM703 608h3v1h-3zM955 608h2v1h-2zM451 609h3v1h-3zM698 609h2v1h-2zM709 609h3v1h-3zM715 609h1v1h-1zM404 610h2v1h-2zM409 610h3v1h-3zM445 610h3v1h-3zM601 610h3v1h-3zM697 610h1v1h-1zM716 610h2v1h-2zM721 610h1v1h-1zM951 610h1v1h-1zM397 611h3v1h-3zM403 611h1v1h-1zM415 611h3v1h-3zM421 611h3v1h-3zM427 611h3v1h-3zM433 611h3v1h-3zM439 611h3v1h-3zM691 611h3v1h-3zM722 611h2v1h-2zM949 611h2v1h-2zM391 612h3v1h-3zM607 612h3v1h-3zM685 612h3v1h-3zM727 612h2v1h-2zM385 613h3v1h-3zM613 613h1v1h-1zM679 613h3v1h-3zM729 613h1v1h-1zM945 613h1v1h-1zM380 614h2v1h-2zM614 614h2v1h-2zM673 614h3v1h-3zM733 614h1v1h-1zM943 614h2v1h-2zM379 615h1v1h-1zM619 615h1v1h-1zM668 615h2v1h-2zM734 615h2v1h-2zM375 616h1v1h-1zM620 616h2v1h-2zM667 616h1v1h-1zM739 616h1v1h-1zM937 616h3v1h-3zM373 617h2v1h-2zM625 617h3v1h-3zM661 617h3v1h-3zM740 617h2v1h-2zM631 618h3v1h-3zM655 618h3v1h-3zM933 618h1v1h-1zM369 619h1v1h-1zM637 619h3v1h-3zM643 619h3v1h-3zM649 619h3v1h-3zM745 619h2v1h-2zM931 619h2v1h-2zM367 620h2v1h-2zM747 620h1v1h-1zM926 621h2v1h-2zM751 622h2v1h-2zM925 622h1v1h-1zM362 623h2v1h-2zM753 623h1v1h-1zM921 623h1v1h-1zM361 624h1v1h-1zM919 624h2v1h-2zM757 625h2v1h-2zM914 625h2v1h-2zM357 626h1v1h-1zM759 626h1v1h-1zM913 626h1v1h-1zM356 627h1v1h-1zM907 627h3v1h-3zM355 628h1v1h-1zM763 628h1v1h-1zM902 628h2v1h-2zM764 629h1v1h-1zM901 629h1v1h-1zM351 630h1v1h-1zM765 630h1v1h-1zM895 630h3v1h-3zM349 631h2v1h-2zM890 631h2v1h-2zM769 632h1v1h-1zM889 632h1v1h-1zM7 633h3v1h-3zM13 633h3v1h-3zM19 633h1v1h-1zM770 633h2v1h-2zM884 633h2v1h-2zM20 634h2v1h-2zM25 634h3v1h-3zM31 634h3v1h-3zM344 634h2v1h-2zM883 634h1v1h-1zM37 635h1v1h-1zM343 635h1v1h-1zM877 635h3v1h-3zM38 636h2v1h-2zM43 636h1v1h-1zM775 636h2v1h-2zM871 636h3v1h-3zM44 637h2v1h-2zM49 637h3v1h-3zM777 637h1v1h-1zM866 637h2v1h-2zM55 638h3v1h-3zM339 638h1v1h-1zM865 638h1v1h-1zM61 639h1v1h-1zM338 639h1v1h-1zM781 639h2v1h-2zM859 639h3v1h-3zM62 640h2v1h-2zM337 640h1v1h-1zM783 640h1v1h-1zM854 640h2v1h-2zM67 641h3v1h-3zM127 641h3v1h-3zM133 641h3v1h-3zM139 641h3v1h-3zM145 641h3v1h-3zM151 641h3v1h-3zM853 641h1v1h-1zM73 642h3v1h-3zM116 642h2v1h-2zM121 642h3v1h-3zM157 642h3v1h-3zM163 642h1v1h-1zM787 642h2v1h-2zM849 642h1v1h-1zM79 643h3v1h-3zM85 643h3v1h-3zM91 643h3v1h-3zM97 643h3v1h-3zM103 643h3v1h-3zM109 643h3v1h-3zM115 643h1v1h-1zM164 643h2v1h-2zM169 643h3v1h-3zM332 643h2v1h-2zM789 643h1v1h-1zM847 643h2v1h-2zM175 644h3v1h-3zM331 644h1v1h-1zM793 644h1v1h-1zM842 644h2v1h-2zM181 645h1v1h-1zM794 645h2v1h-2zM836 645h2v1h-2zM841 645h1v1h-1zM182 646h2v1h-2zM799 646h3v1h-3zM829 646h3v1h-3zM835 646h1v1h-1zM187 647h3v1h-3zM327 647h1v1h-1zM805 647h1v1h-1zM823 647h3v1h-3zM193 648h1v1h-1zM325 648h2v1h-2zM806 648h2v1h-2zM811 648h3v1h-3zM817 648h3v1h-3zM194 649h2v1h-2zM199 650h3v1h-3zM321 650h1v1h-1zM205 651h3v1h-3zM211 651h1v1h-1zM319 651h2v1h-2zM212 652h2v1h-2zM217 652h3v1h-3zM223 653h3v1h-3zM313 653h3v1h-3zM229 654h3v1h-3zM235 654h1v1h-1zM236 655h2v1h-2zM241 655h3v1h-3zM308 655h2v1h-2zM247 656h3v1h-3zM307 656h1v1h-1zM253 657h1v1h-1zM301 657h3v1h-3zM254 658h2v1h-2zM259 658h3v1h-3zM265 658h3v1h-3zM271 658h3v1h-3zM277 658h3v1h-3zM283 658h3v1h-3zM289 658h3v1h-3zM295 658h3v1h-3z" fill="#ff0000" shape-rendering="crispEdges"/>
<path d="M959 699h11v1h-11zM958 700h1v1h-1zM970 700h4v1h-4zM956 701h2v1h-2zM974 701h3v1h-3zM955 702h1v1h-1zM977 702h2v1h-2zM935 703h2v1h-2zM954 703h1v1h-1zM979 703h2v1h-2zM934 704h1v1h-1zM937 704h3v1h-3zM952 704h2v1h-2zM981 704h2v1h-2zM996 704h6v1h-6zM932 705h2v1h-2zM940 705h2v1h-2zM948 705h4v1h-4zM983 705h13v1h-13zM1002 705h4v1h-4zM931 706h1v1h-1zM942 706h6v1h-6zM1006 706h2v1h-2zM930 707h1v1h-1zM1008 707h1v1h-1zM928 708h2v1h-2zM1009 708h1v1h-1zM927 709h1v1h-1zM1010 709h1v1h-1zM926 710h1v1h-1zM1011 710h1v1h-1zM495 711h1v1h-1zM924 711h2v1h-2zM1011 711h1v1h-1zM1023 711h1v1h-1zM493 712h2v1h-2zM496 712h1v1h-1zM923 712h1v1h-1zM1012 712h1v1h-1zM1021 712h2v1h-2zM1024 712h1v1h-1zM491 713h2v1h-2zM496 713h1v1h-1zM647 713h1v1h-1zM922 713h1v1h-1zM1013 713h1v1h-1zM1019 713h2v1h-2zM1025 713h1v1h-1zM489 714h2v1h-2zM497 714h1v1h-1zM646 714h1v1h-1zM648 714h1v1h-1zM920 714h2v1h-2zM1014 714h1v1h-1zM1017 714h2v1h-2zM1026 714h1v1h-1zM486 715h3v1h-3zM498 715h1v1h-1zM646 715h1v1h-1zM648 715h1v1h-1zM919 715h1v1h-1zM1015 715h2v1h-2zM1027 715h1v1h-1zM1060 715h4v1h-4zM484 716h2v1h-2zM498 716h1v1h-1zM645 716h1v1h-1zM649 716h1v1h-1zM918 716h1v1h-1zM1028 716h1v1h-1zM1055 716h5v1h-5zM1063 716h1v1h-1zM447 717h9v1h-9zM481 717h3v1h-3zM499 717h1v1h-1zM645 717h1v1h-1zM650 717h1v1h-1zM917 717h1v1h-1zM1029 717h1v1h-1zM1053 717h2v1h-2zM1064 717h1v1h-1zM445 718h2v1h-2zM456 718h1v1h-1zM479 718h2v1h-2zM500 718h1v1h-1zM644 718h1v1h-1zM651 718h1v1h-1zM916 718h1v1h-1zM1030 718h1v1h-1zM1052 718h1v1h-1zM1064 718h1v1h-1zM444 719h1v1h-1zM457 719h1v1h-1zM478 719h1v1h-1zM500 719h1v1h-1zM643 719h1v1h-1zM651 719h1v1h-1zM671 719h1v1h-1zM915 719h1v1h-1zM1031 719h1v1h-1zM1050 719h2v1h-2zM1065 719h1v1h-1zM442 720h2v1h-2zM458 720h1v1h-1zM477 720h1v1h-1zM501 720h1v1h-1zM643 720h1v1h-1zM652 720h1v1h-1zM669 720h2v1h-2zM672 720h1v1h-1zM915 720h1v1h-1zM1032 720h2v1h-2zM1048 720h2v1h-2zM1065 720h1v1h-1zM440 721h2v1h-2zM459 721h1v1h-1zM476 721h1v1h-1zM502 721h1v1h-1zM642 721h1v1h-1zM653 721h1v1h-1zM667 721h2v1h-2zM673 721h1v1h-1zM914 721h1v1h-1zM1034 721h2v1h-2zM1046 721h2v1h-2zM1066 721h1v1h-1zM438 722h2v1h-2zM460 722h1v1h-1zM475 722h1v1h-1zM502 722h1v1h-1zM641 722h1v1h-1zM654 722h1v1h-1zM665 722h2v1h-2zM674 722h1v1h-1zM913 722h1v1h-1zM1036 722h1v1h-1zM1044 722h2v1h-2zM1066 722h1v1h-1zM436 723h2v1h-2zM461 723h1v1h-1zM475 723h1v1h-1zM503 723h13v1h-13zM641 723h1v1h-1zM654 723h1v1h-1zM660 723h5v1h-5zM675 723h1v1h-1zM912 723h1v1h-1zM1037 723h2v1h-2zM1041 723h3v1h-3zM1067 723h1v1h-1zM433 724h3v1h-3zM462 724h1v1h-1zM474 724h1v1h-1zM516 724h12v1h-12zM640 724h1v1h-1zM655 724h5v1h-5zM676 724h1v1h-1zM911 724h1v1h-1zM1039 724h2v1h-2zM1067 724h1v1h-1zM334 725h10v1h-10zM431 725h2v1h-2zM463 725h3v1h-3zM473 725h1v1h-1zM528 725h1v1h-1zM631 725h5v1h-5zM640 725h1v1h-1zM677 725h1v1h-1zM909 725h2v1h-2zM1068 725h1v1h-1zM330 726h4v1h-4zM344 726h2v1h-2zM429 726h2v1h-2zM466 726h4v1h-4zM472 726h1v1h-1zM529 726h1v1h-1zM630 726h1v1h-1zM636 726h4v1h-4zM678 726h1v1h-1zM886 726h12v1h-12zM907 726h2v1h-2zM1068 726h1v1h-1zM318 727h12v1h-12zM346 727h2v1h-2zM428 727h1v1h-1zM470 727h2v1h-2zM530 727h1v1h-1zM630 727h1v1h-1zM679 727h1v1h-1zM882 727h4v1h-4zM898 727h4v1h-4zM905 727h2v1h-2zM1069 727h1v1h-1zM314 728h4v1h-4zM348 728h1v1h-1zM426 728h2v1h-2zM531 728h1v1h-1zM629 728h1v1h-1zM680 728h1v1h-1zM879 728h3v1h-3zM902 728h3v1h-3zM1069 728h1v1h-1zM310 729h4v1h-4zM349 729h2v1h-2zM356 729h4v1h-4zM424 729h2v1h-2zM531 729h1v1h-1zM629 729h1v1h-1zM681 729h1v1h-1zM878 729h1v1h-1zM1070 729h1v1h-1zM308 730h2v1h-2zM351 730h5v1h-5zM360 730h2v1h-2zM414 730h10v1h-10zM532 730h1v1h-1zM628 730h1v1h-1zM681 730h1v1h-1zM877 730h1v1h-1zM1070 730h1v1h-1zM305 731h3v1h-3zM362 731h2v1h-2zM391 731h3v1h-3zM412 731h2v1h-2zM533 731h1v1h-1zM628 731h1v1h-1zM682 731h1v1h-1zM876 731h1v1h-1zM1071 731h1v1h-1zM303 732h2v1h-2zM364 732h1v1h-1zM389 732h2v1h-2zM394 732h4v1h-4zM409 732h3v1h-3zM534 732h1v1h-1zM627 732h1v1h-1zM683 732h1v1h-1zM874 732h2v1h-2zM1071 732h1v1h-1zM79 733h5v1h-5zM301 733h2v1h-2zM365 733h2v1h-2zM388 733h1v1h-1zM398 733h11v1h-11zM535 733h2v1h-2zM626 733h1v1h-1zM684 733h1v1h-1zM852 733h5v1h-5zM873 733h1v1h-1zM1072 733h1v1h-1zM78 734h1v1h-1zM84 734h4v1h-4zM300 734h1v1h-1zM367 734h5v1h-5zM386 734h2v1h-2zM537 734h3v1h-3zM626 734h1v1h-1zM685 734h1v1h-1zM839 734h13v1h-13zM857 734h3v1h-3zM872 734h1v1h-1zM1073 734h1v1h-1zM77 735h1v1h-1zM88 735h1v1h-1zM298 735h2v1h-2zM372 735h8v1h-8zM384 735h2v1h-2zM540 735h2v1h-2zM548 735h6v1h-6zM590 735h2v1h-2zM625 735h1v1h-1zM685 735h1v1h-1zM815 735h2v1h-2zM838 735h1v1h-1zM860 735h2v1h-2zM868 735h4v1h-4zM1073 735h1v1h-1zM77 736h1v1h-1zM88 736h1v1h-1zM296 736h2v1h-2zM380 736h4v1h-4zM542 736h6v1h-6zM554 736h4v1h-4zM588 736h2v1h-2zM592 736h1v1h-1zM625 736h1v1h-1zM686 736h1v1h-1zM814 736h1v1h-1zM817 736h3v1h-3zM837 736h1v1h-1zM862 736h6v1h-6zM1074 736h1v1h-1zM76 737h1v1h-1zM89 737h1v1h-1zM159 737h1v1h-1zM295 737h1v1h-1zM558 737h22v1h-22zM585 737h3v1h-3zM592 737h1v1h-1zM624 737h1v1h-1zM687 737h10v1h-10zM814 737h1v1h-1zM820 737h2v1h-2zM836 737h1v1h-1zM1075 737h1v1h-1zM75 738h1v1h-1zM90 738h1v1h-1zM127 738h3v1h-3zM158 738h1v1h-1zM160 738h1v1h-1zM294 738h1v1h-1zM580 738h5v1h-5zM593 738h1v1h-1zM624 738h1v1h-1zM697 738h3v1h-3zM813 738h1v1h-1zM822 738h3v1h-3zM834 738h2v1h-2zM1076 738h1v1h-1zM74 739h1v1h-1zM91 739h1v1h-1zM127 739h1v1h-1zM130 739h4v1h-4zM158 739h1v1h-1zM161 739h1v1h-1zM293 739h1v1h-1zM594 739h1v1h-1zM607 739h3v1h-3zM622 739h2v1h-2zM700 739h2v1h-2zM812 739h1v1h-1zM825 739h3v1h-3zM833 739h1v1h-1zM1077 739h1v1h-1zM7 740h5v1h-5zM73 740h1v1h-1zM91 740h1v1h-1zM126 740h1v1h-1zM134 740h2v1h-2zM157 740h1v1h-1zM161 740h1v1h-1zM207 740h2v1h-2zM292 740h1v1h-1zM595 740h1v1h-1zM606 740h1v1h-1zM610 740h4v1h-4zM618 740h4v1h-4zM702 740h11v1h-11zM812 740h1v1h-1zM828 740h2v1h-2zM832 740h1v1h-1zM1077 740h1v1h-1zM12 741h4v1h-4zM73 741h1v1h-1zM92 741h1v1h-1zM126 741h1v1h-1zM136 741h1v1h-1zM157 741h1v1h-1zM162 741h1v1h-1zM206 741h1v1h-1zM209 741h3v1h-3zM291 741h1v1h-1zM595 741h1v1h-1zM605 741h1v1h-1zM614 741h4v1h-4zM713 741h2v1h-2zM811 741h1v1h-1zM830 741h2v1h-2zM1078 741h1v1h-1zM16 742h1v1h-1zM72 742h1v1h-1zM93 742h1v1h-1zM111 742h1v1h-1zM125 742h1v1h-1zM136 742h1v1h-1zM156 742h1v1h-1zM163 742h1v1h-1zM206 742h1v1h-1zM212 742h2v1h-2zM263 742h18v1h-18zM291 742h1v1h-1zM596 742h1v1h-1zM604 742h1v1h-1zM715 742h2v1h-2zM810 742h1v1h-1zM1079 742h1v1h-1zM17 743h1v1h-1zM70 743h2v1h-2zM94 743h1v1h-1zM109 743h2v1h-2zM112 743h1v1h-1zM125 743h1v1h-1zM137 743h1v1h-1zM156 743h1v1h-1zM164 743h1v1h-1zM205 743h1v1h-1zM214 743h6v1h-6zM263 743h1v1h-1zM281 743h2v1h-2zM290 743h1v1h-1zM597 743h1v1h-1zM602 743h2v1h-2zM717 743h2v1h-2zM810 743h1v1h-1zM1080 743h2v1h-2zM18 744h1v1h-1zM68 744h2v1h-2zM94 744h1v1h-1zM107 744h2v1h-2zM112 744h1v1h-1zM124 744h1v1h-1zM138 744h1v1h-1zM155 744h1v1h-1zM165 744h1v1h-1zM204 744h1v1h-1zM220 744h8v1h-8zM262 744h1v1h-1zM283 744h2v1h-2zM289 744h1v1h-1zM598 744h1v1h-1zM601 744h1v1h-1zM719 744h2v1h-2zM809 744h1v1h-1zM1082 744h2v1h-2zM19 745h1v1h-1zM55 745h5v1h-5zM65 745h3v1h-3zM95 745h5v1h-5zM105 745h2v1h-2zM113 745h1v1h-1zM124 745h1v1h-1zM138 745h1v1h-1zM154 745h1v1h-1zM165 745h1v1h-1zM204 745h1v1h-1zM228 745h4v1h-4zM262 745h1v1h-1zM285 745h2v1h-2zM288 745h1v1h-1zM598 745h1v1h-1zM600 745h1v1h-1zM721 745h2v1h-2zM798 745h4v1h-4zM808 745h1v1h-1zM1084 745h1v1h-1zM20 746h1v1h-1zM54 746h1v1h-1zM60 746h5v1h-5zM100 746h5v1h-5zM113 746h1v1h-1zM123 746h1v1h-1zM139 746h1v1h-1zM154 746h1v1h-1zM166 746h1v1h-1zM203 746h1v1h-1zM232 746h1v1h-1zM261 746h1v1h-1zM287 746h1v1h-1zM599 746h1v1h-1zM723 746h2v1h-2zM796 746h2v1h-2zM802 746h4v1h-4zM808 746h1v1h-1zM1085 746h2v1h-2zM21 747h1v1h-1zM53 747h1v1h-1zM114 747h1v1h-1zM123 747h1v1h-1zM140 747h1v1h-1zM153 747h1v1h-1zM167 747h3v1h-3zM202 747h1v1h-1zM233 747h1v1h-1zM261 747h1v1h-1zM725 747h2v1h-2zM793 747h3v1h-3zM806 747h2v1h-2zM1087 747h1v1h-1zM1103 747h5v1h-5zM22 748h1v1h-1zM53 748h1v1h-1zM115 748h1v1h-1zM122 748h1v1h-1zM140 748h1v1h-1zM153 748h1v1h-1zM170 748h4v1h-4zM202 748h1v1h-1zM234 748h1v1h-1zM260 748h1v1h-1zM727 748h1v1h-1zM788 748h5v1h-5zM1088 748h1v1h-1zM1102 748h1v1h-1zM1108 748h8v1h-8zM23 749h1v1h-1zM52 749h1v1h-1zM115 749h1v1h-1zM122 749h1v1h-1zM141 749h1v1h-1zM152 749h1v1h-1zM174 749h4v1h-4zM201 749h1v1h-1zM235 749h1v1h-1zM260 749h1v1h-1zM728 749h1v1h-1zM782 749h6v1h-6zM1089 749h1v1h-1zM1101 749h1v1h-1zM1116 749h3v1h-3zM24 750h1v1h-1zM51 750h1v1h-1zM116 750h1v1h-1zM121 750h1v1h-1zM142 750h1v1h-1zM152 750h1v1h-1zM178 750h4v1h-4zM200 750h1v1h-1zM235 750h1v1h-1zM259 750h1v1h-1zM728 750h1v1h-1zM778 750h4v1h-4zM1089 750h1v1h-1zM1101 750h1v1h-1zM25 751h1v1h-1zM50 751h1v1h-1zM117 751h1v1h-1zM121 751h1v1h-1zM142 751h1v1h-1zM148 751h4v1h-4zM182 751h3v1h-3zM200 751h1v1h-1zM236 751h1v1h-1zM246 751h2v1h-2zM259 751h1v1h-1zM729 751h1v1h-1zM775 751h3v1h-3zM1090 751h1v1h-1zM1100 751h1v1h-1zM26 752h2v1h-2zM49 752h1v1h-1zM117 752h1v1h-1zM120 752h1v1h-1zM143 752h5v1h-5zM185 752h3v1h-3zM198 752h2v1h-2zM237 752h1v1h-1zM244 752h2v1h-2zM248 752h1v1h-1zM258 752h1v1h-1zM729 752h1v1h-1zM751 752h5v1h-5zM773 752h2v1h-2zM1091 752h1v1h-1zM1099 752h1v1h-1zM28 753h1v1h-1zM49 753h1v1h-1zM118 753h1v1h-1zM120 753h1v1h-1zM188 753h2v1h-2zM194 753h4v1h-4zM238 753h1v1h-1zM241 753h3v1h-3zM249 753h1v1h-1zM258 753h1v1h-1zM730 753h1v1h-1zM750 753h1v1h-1zM756 753h5v1h-5zM772 753h1v1h-1zM1092 753h1v1h-1zM1098 753h1v1h-1zM29 754h1v1h-1zM48 754h1v1h-1zM118 754h2v1h-2zM190 754h4v1h-4zM239 754h2v1h-2zM250 754h1v1h-1zM257 754h1v1h-1zM731 754h1v1h-1zM749 754h1v1h-1zM761 754h3v1h-3zM770 754h2v1h-2zM1093 754h1v1h-1zM1097 754h1v1h-1zM30 755h1v1h-1zM36 755h12v1h-12zM119 755h1v1h-1zM251 755h1v1h-1zM257 755h1v1h-1zM731 755h1v1h-1zM748 755h1v1h-1zM764 755h2v1h-2zM768 755h2v1h-2zM1093 755h1v1h-1zM1097 755h1v1h-1zM31 756h5v1h-5zM252 756h1v1h-1zM256 756h1v1h-1zM732 756h1v1h-1zM746 756h2v1h-2zM766 756h2v1h-2zM1094 756h1v1h-1zM1096 756h1v1h-1zM253 757h1v1h-1zM256 757h1v1h-1zM733 757h1v1h-1zM745 757h1v1h-1zM1095 757h1v1h-1zM254 758h2v1h-2zM733 758h1v1h-1zM744 758h1v1h-1zM255 759h1v1h-1zM734 759h1v1h-1zM742 759h2v1h-2zM734 760h1v1h-1zM738 760h4v1h-4zM735 761h3v1h-3z" fill="#1e90ff" shape-rendering="crispEdges"/>
<g shape-rendering="crispEdges">
<rect x="7" y="804" width="1" height="3" fill="#000"/>
<rect x="71" y="804" width="1" height="3" fill="#000"/>
<rect x="135" y="804" width="1" height="3" fill="#000"/>
<rect x="199" y="804" width="1" height="3" fill="#000"/>
<rect x="263" y="804" width="1" height="3" fill="#000"/>
<rect x="327" y="804" width="1" height="3" fill="#000"/>
<rect x="391" y="804" width="1" height="3" fill="#000"/>
<rect x="455" y="804" width="1" height="3" fill="#000"/>
<rect x="519" y="804" width="1" height="3" fill="#000"/>
<rect x="583" y="804" width="1" height="3" fill="#000"/>
<rect x="647" y="804" width="1" height="3" fill="#000"/>
<rect x="711" y="804" width="1" height="3" fill="#000"/>
<rect x="775" y="804" width="1" height="3" fill="#000"/>
<rect x="839" y="804" width="1" height="3" fill="#000"/>
<rect x="903" y="804" width="1" height="3" fill="#000"/>
<rect x="967" y="804" width="1" height="3" fill="#000"/>
<rect x="1031" y="804" width="1" height="3" fill="#000"/>
<rect x="1095" y="804" width="1" height="3" fill="#000"/>
</g>
<text x="6" y="816" font-size="10" fill="#000" stroke="#000" stroke-width="0.15" textLength="47.4" lengthAdjust="spacingAndGlyphs">4 Dec 2018</text>
<text x="70" y="816" font-size="10" fill="#000" stroke="#000" stroke-width="0.15" textLength="52.300000000000004" lengthAdjust="spacingAndGlyphs">13 Dec 2018</text>
<text x="134" y="816" font-size="10" fill="#000" stroke="#000" stroke-width="0.15" textLength="52.300000000000004" lengthAdjust="spacingAndGlyphs">23 Dec 2018</text>
<text x="198" y="816" font-size="10" fill="#000" stroke="#000" stroke-width="0.15" textLength="44.9" lengthAdjust="spacingAndGlyphs">1 Jan 2019</text>
<text x="262" y="816" font-size="10" fill="#000" stroke="#000" stroke-width="0.15" textLength="49.800000000000004" lengthAdjust="spacingAndGlyphs">10 Jan 2019</text>
<text x="326" y="816" font-size="10" fill="#000" stroke="#000" stroke-width="0.15" textLength="49.800000000000004" lengthAdjust="spacingAndGlyphs">20 Jan 2019</text>
<text x="390" y="816" font-size="10" fill="#000" stroke="#000" stroke-width="0.15" textLength="49.800000000000004" lengthAdjust="spacingAndGlyphs">29 Jan 2019</text>
<text x="454" y="816" font-size="10" fill="#000" stroke="#000" stroke-width="0.15" textLength="46.9" lengthAdjust="spacingAndGlyphs">7 Feb 2019</text>
<text x="518" y="816" font-size="10" fill="#000" stroke="#000" stroke-width="0.15" textLength="51.800000000000004" lengthAdjust="spacingAndGlyphs">17 Feb 2019</text>
<text x="582" y="816" font-size="10" fill="#000" stroke="#000" stroke-width="0.15" textLength="52.0" lengthAdjust="spacingAndGlyphs">26 Feb 2019</text>
<text x="646" y="816" font-size="10" fill="#000" stroke="#000" stroke-width="0.15" textLength="46.6" lengthAdjust="spacingAndGlyphs">7 Mar 2019</text>
<text x="710" y="816" font-size="10" fill="#000" stroke="#000" stroke-width="0.15" textLength="51.800000000000004" lengthAdjust="spacingAndGlyphs">17 Mar 2019</text>
<text x="774" y="816" font-size="10" fill="#000" stroke="#000" stroke-width="0.15" textLength="52.1" lengthAdjust="spacingAndGlyphs">26 Mar 2019</text>
<text x="838" y="816" font-size="10" fill="#000" stroke="#000" stroke-width="0.15" textLength="46.1" lengthAdjust="spacingAndGlyphs">4 Apr 2019</text>
<text x="902" y="816" font-size="10" fill="#000" stroke="#000" stroke-width="0.15" textLength="50.6" lengthAdjust="spacingAndGlyphs">14 Apr 2019</text>
<text x="966" y="816" font-size="10" fill="#000" stroke="#000" stroke-width="0.15" textLength="50.9" lengthAdjust="spacingAndGlyphs">24 Apr 2019</text>
<text x="1030" y="816" font-size="10" fill="#000" stroke="#000" stroke-width="0.15" textLength="49.9" lengthAdjust="spacingAndGlyphs">3 May 2019</text>
<text x="1094" y="816" font-size="10" fill="#000" stroke="#000" stroke-width="0.15" textLength="54.800000000000004" lengthAdjust="spacingAndGlyphs">13 May 2019</text>
<polygon points="10,32 18,32 14,36" fill="#000"/>
<text x="22.5" y="38" font-size="10" fill="#000" stroke="#000" stroke-width="0.15" textLength="67.3" lengthAdjust="spacingAndGlyphs">USDCHF-,Daily</text>
<text x="96.3" y="38" font-size="10" fill="#000" stroke="#000" stroke-width="0.15" textLength="32.3" lengthAdjust="spacingAndGlyphs">1.00808</text>
<text x="132.6" y="38" font-size="10" fill="#000" stroke="#000" stroke-width="0.15" textLength="32.3" lengthAdjust="spacingAndGlyphs">1.00816</text>
<text x="168.5" y="38" font-size="10" fill="#000" stroke="#000" stroke-width="0.15" textLength="32.3" lengthAdjust="spacingAndGlyphs">1.00764</text>
<text x="204.7" y="38" font-size="10" fill="#000" stroke="#000" stroke-width="0.15" textLength="32.3" lengthAdjust="spacingAndGlyphs">1.00780</text>
<text x="11.5" y="580" font-size="10" fill="#000" stroke="#000" stroke-width="0.15" textLength="66" lengthAdjust="spacingAndGlyphs">MACD(12,26,9)</text>
<text x="80.3" y="580" font-size="10" fill="#000" stroke="#000" stroke-width="0.15" textLength="41" lengthAdjust="spacingAndGlyphs">-0.000219</text>
<text x="124.5" y="580" font-size="10" fill="#000" stroke="#000" stroke-width="0.15" textLength="37.5" lengthAdjust="spacingAndGlyphs">0.001989</text>
<text x="11.5" y="686" font-size="10" fill="#000" stroke="#000" stroke-width="0.15" textLength="31.2" lengthAdjust="spacingAndGlyphs">RSI(14)</text>
<text x="45.7" y="686" font-size="10" fill="#000" stroke="#000" stroke-width="0.15" textLength="33" lengthAdjust="spacingAndGlyphs">41.6790</text>
<text x="9.5" y="14" font-size="9.8" fill="#404040" textLength="12.5" lengthAdjust="spacingAndGlyphs">H4</text>
<text x="38.5" y="14" font-size="9.8" fill="#404040" textLength="12" lengthAdjust="spacingAndGlyphs">D1</text>
<text x="66" y="14" font-size="9.8" fill="#404040" textLength="15" lengthAdjust="spacingAndGlyphs">W1</text>
<text x="92.5" y="14" font-size="9.8" fill="#404040" textLength="15" lengthAdjust="spacingAndGlyphs">MN</text>
<text x="19.5" y="840.6" font-size="12" fill="#707070" textLength="84.5" lengthAdjust="spacingAndGlyphs">EURUSD-,Daily</text>
<text x="126" y="840.6" font-size="12" fill="#707070" textLength="87" lengthAdjust="spacingAndGlyphs">AUDUSD-,Daily</text>
<text x="237" y="840.6" font-size="12" fill="#000" textLength="83" lengthAdjust="spacingAndGlyphs">USDCHF-,Daily</text>
<text x="343" y="840.6" font-size="12" fill="#707070" textLength="86" lengthAdjust="spacingAndGlyphs">USDCAD-,Daily</text>
<text x="452" y="840.6" font-size="12" fill="#707070" textLength="88" lengthAdjust="spacingAndGlyphs">USDCNH-,Daily</text>
<text x="563" y="840.6" font-size="12" fill="#707070" textLength="97" lengthAdjust="spacingAndGlyphs">EURCHF-,Weekly</text>
<polygon points="1441,832 1441,839 1437.5,835.5" fill="#a0a0a0"/>
<polygon points="1457,832 1457,839 1460.5,835.5" fill="#a0a0a0"/>
</svg></body></html>
